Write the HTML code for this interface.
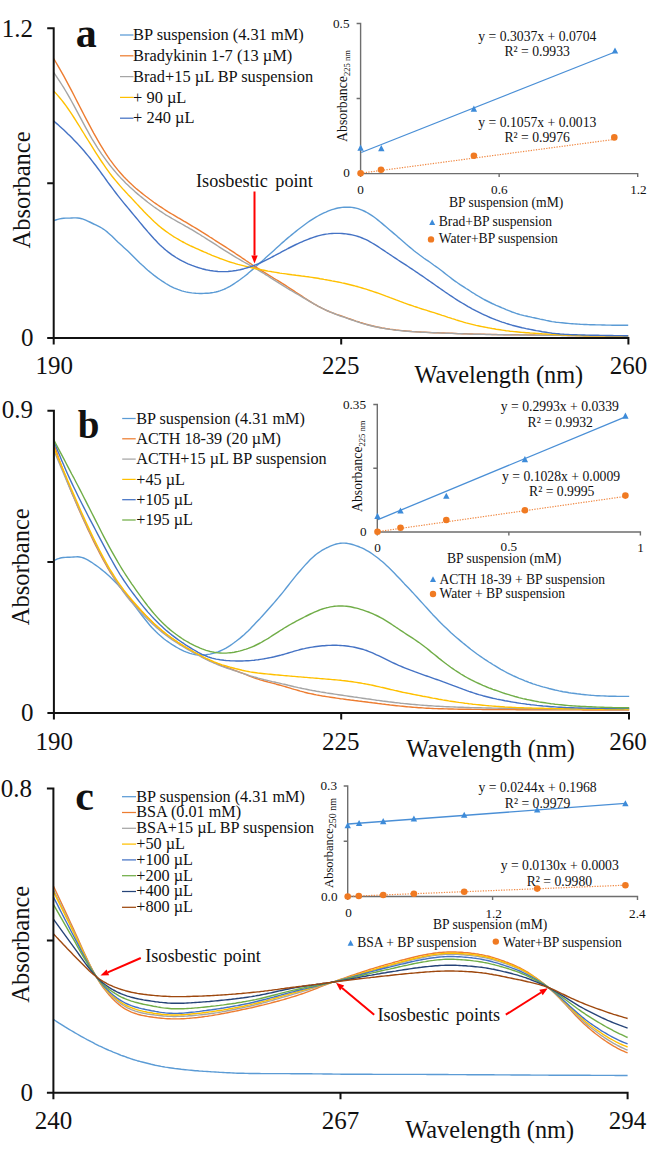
<!DOCTYPE html>
<html><head><meta charset="utf-8"><style>
html,body{margin:0;padding:0;background:#fff;}
svg{display:block;}
text{font-family:"Liberation Serif",serif;fill:#111;}
</style></head><body>
<svg width="652" height="1153" viewBox="0 0 652 1153">
<rect width="652" height="1153" fill="#fff"/>
<path d="M53.7,220.6 55.7,220.0 57.7,219.4 59.7,218.9 61.7,218.5 63.7,218.3 65.7,218.1 67.7,218.1 69.7,218.1 71.7,218.0 73.7,217.9 75.7,217.9 77.7,218.0 79.7,218.2 81.7,218.7 83.7,219.4 85.7,220.2 87.7,221.1 89.7,222.0 91.7,223.0 93.7,224.0 95.7,224.9 97.7,225.9 99.7,226.9 101.7,228.0 103.7,229.3 105.7,230.7 107.7,232.4 109.7,234.2 111.8,236.1 113.8,238.1 115.8,240.1 117.8,242.0 119.8,243.8 121.8,245.6 123.8,247.4 125.8,249.2 127.8,251.0 129.8,252.9 131.8,254.9 133.8,256.9 135.8,258.9 137.8,260.9 139.8,262.9 141.8,264.8 143.8,266.6 145.8,268.4 147.8,270.2 149.8,271.9 151.8,273.5 153.8,275.1 155.8,276.6 157.8,278.1 159.8,279.5 161.8,280.9 163.8,282.2 165.8,283.5 167.8,284.7 169.8,285.8 171.8,286.8 173.8,287.8 175.8,288.6 177.8,289.4 179.8,290.1 181.8,290.8 183.8,291.4 185.8,291.9 187.8,292.3 189.8,292.6 191.8,292.9 193.8,293.1 195.8,293.3 197.8,293.4 199.8,293.5 201.8,293.5 203.8,293.4 205.8,293.3 207.8,293.2 209.8,293.0 211.8,292.7 213.8,292.4 215.8,292.0 217.8,291.5 219.8,290.9 221.8,290.2 223.8,289.4 225.8,288.5 227.9,287.4 229.9,286.3 231.9,285.1 233.9,283.8 235.9,282.5 237.9,281.2 239.9,279.8 241.9,278.3 243.9,276.8 245.9,275.2 247.9,273.6 249.9,271.8 251.9,270.1 253.9,268.4 255.9,266.6 257.9,264.8 259.9,263.0 261.9,261.3 263.9,259.5 265.9,257.6 267.9,255.8 269.9,254.0 271.9,252.2 273.9,250.4 275.9,248.6 277.9,246.7 279.9,244.9 281.9,243.1 283.9,241.4 285.9,239.6 287.9,237.9 289.9,236.3 291.9,234.6 293.9,233.0 295.9,231.4 297.9,229.8 299.9,228.3 301.9,226.8 303.9,225.3 305.9,223.8 307.9,222.3 309.9,220.9 311.9,219.6 313.9,218.3 315.9,217.1 317.9,216.0 319.9,214.9 321.9,213.9 323.9,212.9 325.9,212.1 327.9,211.2 329.9,210.4 331.9,209.7 333.9,209.1 335.9,208.5 337.9,208.0 339.9,207.7 342.0,207.4 344.0,207.2 346.0,207.1 348.0,207.2 350.0,207.3 352.0,207.4 354.0,207.7 356.0,208.1 358.0,208.6 360.0,209.3 362.0,210.1 364.0,211.0 366.0,212.0 368.0,213.1 370.0,214.3 372.0,215.6 374.0,217.0 376.0,218.5 378.0,220.1 380.0,221.7 382.0,223.4 384.0,225.1 386.0,226.8 388.0,228.5 390.0,230.2 392.0,231.9 394.0,233.6 396.0,235.3 398.0,237.1 400.0,238.8 402.0,240.5 404.0,242.2 406.0,244.0 408.0,245.7 410.0,247.4 412.0,249.0 414.0,250.7 416.0,252.3 418.0,253.8 420.0,255.3 422.0,256.7 424.0,258.2 426.0,259.6 428.0,260.9 430.0,262.3 432.0,263.7 434.0,265.2 436.0,266.6 438.0,268.0 440.0,269.5 442.0,271.0 444.0,272.6 446.0,274.2 448.0,275.8 450.0,277.3 452.0,278.9 454.0,280.4 456.1,281.8 458.1,283.2 460.1,284.6 462.1,285.9 464.1,287.2 466.1,288.5 468.1,289.7 470.1,291.0 472.1,292.3 474.1,293.5 476.1,294.8 478.1,296.0 480.1,297.2 482.1,298.3 484.1,299.5 486.1,300.5 488.1,301.5 490.1,302.5 492.1,303.5 494.1,304.4 496.1,305.3 498.1,306.1 500.1,307.0 502.1,307.9 504.1,308.7 506.1,309.6 508.1,310.4 510.1,311.2 512.1,312.0 514.1,312.7 516.1,313.4 518.1,314.0 520.1,314.6 522.1,315.1 524.1,315.6 526.1,316.0 528.1,316.5 530.1,316.9 532.1,317.4 534.1,317.8 536.1,318.2 538.1,318.6 540.1,319.1 542.1,319.5 544.1,319.9 546.1,320.4 548.1,320.8 550.1,321.2 552.1,321.6 554.1,321.9 556.1,322.2 558.1,322.4 560.1,322.6 562.1,322.8 564.1,323.0 566.1,323.2 568.1,323.4 570.1,323.6 572.2,323.7 574.2,323.9 576.2,324.0 578.2,324.1 580.2,324.3 582.2,324.4 584.2,324.5 586.2,324.5 588.2,324.6 590.2,324.7 592.2,324.7 594.2,324.8 596.2,324.9 598.2,324.9 600.2,324.9 602.2,325.0 604.2,325.0 606.2,325.1 608.2,325.1 610.2,325.1 612.2,325.2 614.2,325.2 616.2,325.2 618.2,325.2 620.2,325.2 622.2,325.2 624.2,325.2 626.2,325.2 628.2,325.2" fill="none" stroke="#5B9BD5" stroke-width="1.4" stroke-linejoin="round"/>
<path d="M53.7,58.7 55.7,62.0 57.7,65.4 59.7,68.8 61.7,72.3 63.7,75.9 65.7,79.6 67.7,83.3 69.7,87.1 71.7,90.9 73.7,94.8 75.7,98.7 77.7,102.6 79.7,106.5 81.7,110.4 83.7,114.3 85.7,118.1 87.7,121.9 89.7,125.7 91.7,129.4 93.7,133.1 95.7,136.6 97.7,140.2 99.7,143.6 101.7,146.9 103.7,150.2 105.7,153.3 107.7,156.4 109.7,159.3 111.8,162.1 113.8,164.8 115.8,167.4 117.8,169.9 119.8,172.2 121.8,174.5 123.8,176.7 125.8,178.8 127.8,180.8 129.8,182.7 131.8,184.6 133.8,186.4 135.8,188.2 137.8,189.9 139.8,191.5 141.8,193.1 143.8,194.7 145.8,196.3 147.8,197.8 149.8,199.3 151.8,200.7 153.8,202.2 155.8,203.6 157.8,205.0 159.8,206.4 161.8,207.7 163.8,209.0 165.8,210.3 167.8,211.6 169.8,212.8 171.8,214.0 173.8,215.2 175.8,216.4 177.8,217.6 179.8,218.7 181.8,219.9 183.8,221.1 185.8,222.2 187.8,223.4 189.8,224.6 191.8,225.8 193.8,227.0 195.8,228.2 197.8,229.4 199.8,230.6 201.8,231.9 203.8,233.1 205.8,234.4 207.8,235.7 209.8,237.0 211.8,238.2 213.8,239.5 215.8,240.8 217.8,242.1 219.8,243.4 221.8,244.6 223.8,245.9 225.8,247.2 227.9,248.5 229.9,249.8 231.9,251.1 233.9,252.4 235.9,253.8 237.9,255.1 239.9,256.4 241.9,257.8 243.9,259.1 245.9,260.5 247.9,261.8 249.9,263.2 251.9,264.5 253.9,265.8 255.9,267.1 257.9,268.4 259.9,269.7 261.9,270.9 263.9,272.2 265.9,273.4 267.9,274.6 269.9,275.8 271.9,277.0 273.9,278.3 275.9,279.5 277.9,280.7 279.9,281.9 281.9,283.2 283.9,284.4 285.9,285.7 287.9,287.0 289.9,288.3 291.9,289.6 293.9,290.9 295.9,292.3 297.9,293.6 299.9,294.9 301.9,296.2 303.9,297.5 305.9,298.8 307.9,300.1 309.9,301.3 311.9,302.6 313.9,303.8 315.9,304.9 317.9,306.1 319.9,307.1 321.9,308.2 323.9,309.2 325.9,310.1 327.9,311.0 329.9,311.9 331.9,312.7 333.9,313.4 335.9,314.1 337.9,314.8 339.9,315.5 342.0,316.2 344.0,316.9 346.0,317.6 348.0,318.3 350.0,319.0 352.0,319.7 354.0,320.4 356.0,321.1 358.0,321.7 360.0,322.4 362.0,323.0 364.0,323.6 366.0,324.2 368.0,324.7 370.0,325.3 372.0,325.8 374.0,326.2 376.0,326.7 378.0,327.1 380.0,327.5 382.0,327.9 384.0,328.2 386.0,328.6 388.0,328.9 390.0,329.2 392.0,329.4 394.0,329.7 396.0,330.0 398.0,330.2 400.0,330.4 402.0,330.6 404.0,330.8 406.0,331.0 408.0,331.2 410.0,331.3 412.0,331.5 414.0,331.6 416.0,331.7 418.0,331.9 420.0,332.0 422.0,332.1 424.0,332.2 426.0,332.3 428.0,332.4 430.0,332.5 432.0,332.6 434.0,332.7 436.0,332.7 438.0,332.8 440.0,332.9 442.0,333.0 444.0,333.0 446.0,333.1 448.0,333.2 450.0,333.3 452.0,333.3 454.0,333.4 456.1,333.5 458.1,333.6 460.1,333.6 462.1,333.7 464.1,333.8 466.1,333.8 468.1,333.9 470.1,334.0 472.1,334.0 474.1,334.1 476.1,334.1 478.1,334.2 480.1,334.2 482.1,334.3 484.1,334.3 486.1,334.4 488.1,334.4 490.1,334.4 492.1,334.5 494.1,334.5 496.1,334.5 498.1,334.6 500.1,334.6 502.1,334.6 504.1,334.7 506.1,334.7 508.1,334.7 510.1,334.7 512.1,334.8 514.1,334.8 516.1,334.8 518.1,334.8 520.1,334.9 522.1,334.9 524.1,334.9 526.1,334.9 528.1,335.0 530.1,335.0 532.1,335.0 534.1,335.0 536.1,335.1 538.1,335.1 540.1,335.1 542.1,335.1 544.1,335.2 546.1,335.2 548.1,335.2 550.1,335.2 552.1,335.3 554.1,335.3 556.1,335.3 558.1,335.3 560.1,335.4 562.1,335.4 564.1,335.4 566.1,335.4 568.1,335.5 570.1,335.5 572.2,335.5 574.2,335.5 576.2,335.6 578.2,335.6 580.2,335.6 582.2,335.6 584.2,335.7 586.2,335.7 588.2,335.7 590.2,335.7 592.2,335.8 594.2,335.8 596.2,335.8 598.2,335.8 600.2,335.9 602.2,335.9 604.2,335.9 606.2,335.9 608.2,336.0 610.2,336.0 612.2,336.0 614.2,336.0 616.2,336.1 618.2,336.1 620.2,336.1 622.2,336.1 624.2,336.2 626.2,336.2 628.2,336.2" fill="none" stroke="#ED7D31" stroke-width="1.4" stroke-linejoin="round"/>
<path d="M53.7,72.4 55.7,75.3 57.7,78.3 59.7,81.3 61.7,84.5 63.7,87.7 65.7,91.0 67.7,94.4 69.7,97.9 71.7,101.5 73.7,105.2 75.7,108.9 77.7,112.6 79.7,116.4 81.7,120.2 83.7,123.9 85.7,127.6 87.7,131.2 89.7,134.8 91.7,138.3 93.7,141.6 95.7,144.9 97.7,148.1 99.7,151.1 101.7,154.1 103.7,156.9 105.7,159.7 107.7,162.4 109.7,165.0 111.8,167.6 113.8,170.0 115.8,172.4 117.8,174.7 119.8,176.9 121.8,179.1 123.8,181.1 125.8,183.2 127.8,185.1 129.8,187.0 131.8,188.8 133.8,190.6 135.8,192.4 137.8,194.1 139.8,195.8 141.8,197.4 143.8,199.0 145.8,200.6 147.8,202.2 149.8,203.7 151.8,205.2 153.8,206.7 155.8,208.1 157.8,209.5 159.8,210.9 161.8,212.2 163.8,213.5 165.8,214.8 167.8,216.0 169.8,217.2 171.8,218.4 173.8,219.5 175.8,220.7 177.8,221.8 179.8,222.9 181.8,224.0 183.8,225.1 185.8,226.3 187.8,227.4 189.8,228.6 191.8,229.7 193.8,230.9 195.8,232.1 197.8,233.3 199.8,234.5 201.8,235.8 203.8,237.0 205.8,238.3 207.8,239.6 209.8,240.8 211.8,242.1 213.8,243.4 215.8,244.7 217.8,246.0 219.8,247.3 221.8,248.6 223.8,249.9 225.8,251.1 227.9,252.4 229.9,253.7 231.9,254.9 233.9,256.1 235.9,257.3 237.9,258.5 239.9,259.7 241.9,260.8 243.9,262.0 245.9,263.1 247.9,264.2 249.9,265.3 251.9,266.4 253.9,267.6 255.9,268.7 257.9,269.9 259.9,271.1 261.9,272.3 263.9,273.5 265.9,274.8 267.9,276.0 269.9,277.3 271.9,278.6 273.9,279.9 275.9,281.2 277.9,282.4 279.9,283.7 281.9,284.9 283.9,286.2 285.9,287.4 287.9,288.6 289.9,289.8 291.9,291.0 293.9,292.2 295.9,293.3 297.9,294.5 299.9,295.7 301.9,296.9 303.9,298.1 305.9,299.2 307.9,300.4 309.9,301.6 311.9,302.7 313.9,303.9 315.9,305.0 317.9,306.1 319.9,307.1 321.9,308.2 323.9,309.1 325.9,310.1 327.9,311.0 329.9,311.9 331.9,312.7 333.9,313.5 335.9,314.3 337.9,315.0 339.9,315.8 342.0,316.5 344.0,317.2 346.0,317.9 348.0,318.6 350.0,319.3 352.0,320.0 354.0,320.7 356.0,321.4 358.0,322.0 360.0,322.7 362.0,323.3 364.0,323.9 366.0,324.4 368.0,325.0 370.0,325.5 372.0,326.0 374.0,326.5 376.0,326.9 378.0,327.3 380.0,327.7 382.0,328.1 384.0,328.4 386.0,328.8 388.0,329.1 390.0,329.4 392.0,329.6 394.0,329.9 396.0,330.2 398.0,330.4 400.0,330.6 402.0,330.8 404.0,331.0 406.0,331.2 408.0,331.3 410.0,331.5 412.0,331.6 414.0,331.7 416.0,331.9 418.0,332.0 420.0,332.1 422.0,332.2 424.0,332.3 426.0,332.4 428.0,332.5 430.0,332.6 432.0,332.7 434.0,332.8 436.0,332.8 438.0,332.9 440.0,333.0 442.0,333.1 444.0,333.1 446.0,333.2 448.0,333.3 450.0,333.4 452.0,333.4 454.0,333.5 456.1,333.6 458.1,333.7 460.1,333.7 462.1,333.8 464.1,333.9 466.1,333.9 468.1,334.0 470.1,334.1 472.1,334.1 474.1,334.2 476.1,334.2 478.1,334.3 480.1,334.3 482.1,334.4 484.1,334.4 486.1,334.5 488.1,334.5 490.1,334.5 492.1,334.6 494.1,334.6 496.1,334.6 498.1,334.7 500.1,334.7 502.1,334.7 504.1,334.8 506.1,334.8 508.1,334.8 510.1,334.8 512.1,334.9 514.1,334.9 516.1,334.9 518.1,334.9 520.1,335.0 522.1,335.0 524.1,335.0 526.1,335.0 528.1,335.1 530.1,335.1 532.1,335.1 534.1,335.1 536.1,335.2 538.1,335.2 540.1,335.2 542.1,335.2 544.1,335.2 546.1,335.3 548.1,335.3 550.1,335.3 552.1,335.3 554.1,335.4 556.1,335.4 558.1,335.4 560.1,335.4 562.1,335.5 564.1,335.5 566.1,335.5 568.1,335.5 570.1,335.6 572.2,335.6 574.2,335.6 576.2,335.6 578.2,335.6 580.2,335.7 582.2,335.7 584.2,335.7 586.2,335.7 588.2,335.8 590.2,335.8 592.2,335.8 594.2,335.8 596.2,335.9 598.2,335.9 600.2,335.9 602.2,335.9 604.2,335.9 606.2,336.0 608.2,336.0 610.2,336.0 612.2,336.0 614.2,336.0 616.2,336.1 618.2,336.1 620.2,336.1 622.2,336.1 624.2,336.2 626.2,336.2 628.2,336.2" fill="none" stroke="#A5A5A5" stroke-width="1.4" stroke-linejoin="round"/>
<path d="M53.9,91.2 55.9,93.4 57.9,95.6 59.9,98.0 61.9,100.4 63.9,103.0 65.9,105.7 67.9,108.5 69.9,111.4 71.9,114.4 73.9,117.5 75.9,120.6 77.9,123.8 79.9,127.0 81.9,130.3 83.9,133.5 85.9,136.8 87.9,140.0 89.9,143.2 91.9,146.4 93.9,149.6 95.9,152.8 97.9,155.9 99.9,159.0 101.9,162.0 103.9,164.9 105.9,167.8 107.9,170.6 109.9,173.3 111.9,176.0 113.9,178.5 115.9,180.9 117.9,183.3 119.9,185.6 121.9,187.9 123.9,190.1 125.9,192.2 127.9,194.4 129.9,196.5 131.9,198.6 133.9,200.8 135.9,202.9 137.9,205.1 139.9,207.2 141.9,209.3 143.9,211.5 145.9,213.6 147.9,215.6 150.0,217.6 152.0,219.6 154.0,221.5 156.0,223.3 158.0,225.1 160.0,226.7 162.0,228.4 164.0,229.9 166.0,231.4 168.0,232.8 170.0,234.2 172.0,235.5 174.0,236.8 176.0,238.0 178.0,239.2 180.0,240.4 182.0,241.5 184.0,242.5 186.0,243.6 188.0,244.6 190.0,245.6 192.0,246.5 194.0,247.4 196.0,248.3 198.0,249.2 200.0,250.1 202.0,251.0 204.0,251.9 206.0,252.7 208.0,253.6 210.0,254.4 212.0,255.3 214.0,256.1 216.0,256.9 218.0,257.7 220.0,258.5 222.0,259.2 224.0,259.9 226.0,260.6 228.0,261.3 230.0,262.0 232.0,262.6 234.0,263.2 236.0,263.8 238.0,264.4 240.0,264.9 242.0,265.4 244.0,265.9 246.0,266.4 248.0,266.9 250.0,267.4 252.0,267.8 254.0,268.3 256.0,268.7 258.0,269.1 260.0,269.5 262.0,269.9 264.0,270.3 266.0,270.7 268.0,271.1 270.0,271.4 272.0,271.8 274.0,272.1 276.0,272.4 278.0,272.7 280.0,273.1 282.0,273.4 284.0,273.6 286.0,273.9 288.0,274.2 290.0,274.5 292.0,274.8 294.0,275.0 296.0,275.3 298.0,275.5 300.0,275.8 302.0,276.1 304.0,276.3 306.0,276.6 308.0,276.8 310.0,277.1 312.0,277.4 314.0,277.7 316.0,278.0 318.0,278.3 320.0,278.7 322.0,279.0 324.0,279.4 326.0,279.7 328.0,280.1 330.0,280.5 332.0,280.9 334.0,281.2 336.0,281.6 338.0,282.0 340.0,282.4 342.1,282.9 344.1,283.3 346.1,283.7 348.1,284.2 350.1,284.7 352.1,285.2 354.1,285.7 356.1,286.3 358.1,286.8 360.1,287.4 362.1,288.0 364.1,288.6 366.1,289.2 368.1,289.8 370.1,290.5 372.1,291.1 374.1,291.8 376.1,292.5 378.1,293.2 380.1,293.9 382.1,294.6 384.1,295.3 386.1,296.1 388.1,296.8 390.1,297.6 392.1,298.3 394.1,299.1 396.1,299.9 398.1,300.6 400.1,301.4 402.1,302.1 404.1,302.9 406.1,303.6 408.1,304.3 410.1,305.0 412.1,305.7 414.1,306.4 416.1,307.0 418.1,307.7 420.1,308.3 422.1,309.0 424.1,309.6 426.1,310.2 428.1,310.8 430.1,311.5 432.1,312.1 434.1,312.7 436.1,313.3 438.1,314.0 440.1,314.6 442.1,315.3 444.1,315.9 446.1,316.6 448.1,317.3 450.1,317.9 452.1,318.6 454.1,319.2 456.1,319.9 458.1,320.5 460.1,321.1 462.1,321.7 464.1,322.3 466.1,322.9 468.1,323.4 470.1,323.9 472.1,324.4 474.1,324.9 476.1,325.4 478.1,325.8 480.1,326.2 482.1,326.6 484.1,327.0 486.1,327.4 488.1,327.8 490.1,328.1 492.1,328.5 494.1,328.8 496.1,329.2 498.1,329.5 500.1,329.8 502.1,330.1 504.1,330.4 506.1,330.7 508.1,330.9 510.1,331.2 512.1,331.4 514.1,331.6 516.1,331.8 518.1,332.0 520.1,332.2 522.1,332.4 524.1,332.5 526.1,332.7 528.1,332.8 530.1,333.0 532.1,333.1 534.2,333.2 536.2,333.4 538.2,333.5 540.2,333.6 542.2,333.8 544.2,333.9 546.2,334.0 548.2,334.1 550.2,334.3 552.2,334.4 554.2,334.5 556.2,334.6 558.2,334.7 560.2,334.8 562.2,334.9 564.2,335.0 566.2,335.1 568.2,335.2 570.2,335.3 572.2,335.4 574.2,335.4 576.2,335.5 578.2,335.5 580.2,335.6 582.2,335.6 584.2,335.7 586.2,335.7 588.2,335.7 590.2,335.8 592.2,335.8 594.2,335.8 596.2,335.8 598.2,335.9 600.2,335.9 602.2,335.9 604.2,335.9 606.2,335.9 608.2,335.9 610.2,335.9 612.2,335.9 614.2,335.9 616.2,335.9 618.2,335.9 620.2,335.9 622.2,335.8 624.2,335.8 626.2,335.8 628.2,335.8" fill="none" stroke="#FFC000" stroke-width="1.4" stroke-linejoin="round"/>
<path d="M53.9,121.1 55.9,122.9 57.9,124.6 59.9,126.4 61.9,128.2 63.9,130.0 65.9,131.9 67.9,133.9 69.9,135.8 71.9,137.8 73.9,139.9 75.9,142.0 77.9,144.1 79.9,146.3 81.9,148.5 83.9,150.8 85.9,153.2 87.9,155.6 89.9,158.0 91.9,160.6 93.9,163.2 95.9,165.8 97.9,168.5 99.9,171.2 101.9,174.0 103.9,176.7 105.9,179.5 107.9,182.3 109.9,185.0 111.9,187.7 113.9,190.4 115.9,193.0 117.9,195.6 119.9,198.1 121.9,200.6 123.9,203.1 125.9,205.5 127.9,207.9 129.9,210.3 131.9,212.7 133.9,215.1 135.9,217.5 137.9,219.9 139.9,222.4 141.9,224.8 143.9,227.2 145.9,229.5 147.9,231.9 150.0,234.2 152.0,236.5 154.0,238.7 156.0,240.8 158.0,242.9 160.0,244.9 162.0,246.8 164.0,248.6 166.0,250.3 168.0,251.9 170.0,253.4 172.0,254.9 174.0,256.2 176.0,257.5 178.0,258.7 180.0,259.8 182.0,260.9 184.0,261.9 186.0,262.9 188.0,263.8 190.0,264.6 192.0,265.4 194.0,266.1 196.0,266.8 198.0,267.5 200.0,268.1 202.0,268.7 204.0,269.2 206.0,269.7 208.0,270.1 210.0,270.5 212.0,270.8 214.0,271.1 216.0,271.3 218.0,271.5 220.0,271.6 222.0,271.6 224.0,271.6 226.0,271.6 228.0,271.5 230.0,271.3 232.0,271.1 234.0,270.8 236.0,270.5 238.0,270.1 240.0,269.7 242.0,269.2 244.0,268.7 246.0,268.1 248.0,267.5 250.0,266.9 252.0,266.2 254.0,265.5 256.0,264.7 258.0,263.8 260.0,263.0 262.0,262.0 264.0,261.1 266.0,260.1 268.0,259.1 270.0,258.1 272.0,257.0 274.0,256.0 276.0,254.9 278.0,253.8 280.0,252.8 282.0,251.7 284.0,250.6 286.0,249.6 288.0,248.5 290.0,247.5 292.0,246.5 294.0,245.5 296.0,244.5 298.0,243.6 300.0,242.7 302.0,241.8 304.0,240.9 306.0,240.1 308.0,239.3 310.0,238.5 312.0,237.8 314.0,237.1 316.0,236.5 318.0,235.9 320.0,235.4 322.0,234.9 324.0,234.5 326.0,234.1 328.0,233.9 330.0,233.6 332.0,233.5 334.0,233.4 336.0,233.4 338.0,233.4 340.0,233.4 342.1,233.5 344.1,233.7 346.1,233.9 348.1,234.2 350.1,234.5 352.1,234.9 354.1,235.4 356.1,235.9 358.1,236.5 360.1,237.2 362.1,238.0 364.1,238.8 366.1,239.7 368.1,240.7 370.1,241.8 372.1,243.0 374.1,244.2 376.1,245.4 378.1,246.7 380.1,248.0 382.1,249.3 384.1,250.6 386.1,252.0 388.1,253.3 390.1,254.7 392.1,256.0 394.1,257.3 396.1,258.6 398.1,260.0 400.1,261.3 402.1,262.6 404.1,263.9 406.1,265.2 408.1,266.5 410.1,267.9 412.1,269.2 414.1,270.5 416.1,271.9 418.1,273.2 420.1,274.6 422.1,275.9 424.1,277.3 426.1,278.7 428.1,280.1 430.1,281.5 432.1,282.9 434.1,284.3 436.1,285.7 438.1,287.1 440.1,288.5 442.1,289.9 444.1,291.3 446.1,292.7 448.1,294.0 450.1,295.4 452.1,296.7 454.1,298.0 456.1,299.3 458.1,300.6 460.1,301.8 462.1,303.0 464.1,304.2 466.1,305.4 468.1,306.6 470.1,307.7 472.1,308.8 474.1,309.8 476.1,310.9 478.1,311.9 480.1,312.9 482.1,313.9 484.1,314.8 486.1,315.7 488.1,316.6 490.1,317.5 492.1,318.3 494.1,319.1 496.1,319.9 498.1,320.6 500.1,321.4 502.1,322.1 504.1,322.7 506.1,323.4 508.1,324.0 510.1,324.6 512.1,325.2 514.1,325.7 516.1,326.2 518.1,326.7 520.1,327.2 522.1,327.7 524.1,328.1 526.1,328.6 528.1,329.0 530.1,329.4 532.1,329.8 534.2,330.2 536.2,330.6 538.2,330.9 540.2,331.3 542.2,331.7 544.2,332.0 546.2,332.3 548.2,332.6 550.2,332.9 552.2,333.2 554.2,333.4 556.2,333.6 558.2,333.8 560.2,334.0 562.2,334.1 564.2,334.3 566.2,334.4 568.2,334.5 570.2,334.6 572.2,334.7 574.2,334.8 576.2,334.8 578.2,334.9 580.2,334.9 582.2,335.0 584.2,335.0 586.2,335.1 588.2,335.1 590.2,335.2 592.2,335.2 594.2,335.3 596.2,335.3 598.2,335.3 600.2,335.4 602.2,335.4 604.2,335.4 606.2,335.5 608.2,335.5 610.2,335.5 612.2,335.5 614.2,335.6 616.2,335.6 618.2,335.6 620.2,335.6 622.2,335.6 624.2,335.7 626.2,335.7 628.2,335.7" fill="none" stroke="#4472C4" stroke-width="1.4" stroke-linejoin="round"/>
<path d="M47.2,28.3 H53.7 V344.5 M47.2,183.15 H53.7 M47.2,338 H628.4 V344.5 M341.2,338 V344.5" fill="none" stroke="#111" stroke-width="2"/>
<text x="33" y="36.8" font-size="25" text-anchor="end" >1.2</text>
<text x="33.5" y="345.9" font-size="25" text-anchor="end" >0</text>
<text x="54.3" y="374.4" font-size="25" text-anchor="middle" >190</text>
<text x="340.7" y="374.4" font-size="25" text-anchor="middle" >225</text>
<text x="628.4" y="374.2" font-size="25" text-anchor="middle" >260</text>
<text x="414.4" y="382.5" font-size="24.3" text-anchor="start" >Wavelength (nm)</text>
<path d="M120,35.0 H133.5" stroke="#5B9BD5" stroke-width="1.25"/>
<text x="133.1" y="40.2" font-size="16.4" text-anchor="start" >BP suspension (4.31 mM)</text>
<path d="M120,55.8 H133.5" stroke="#ED7D31" stroke-width="1.25"/>
<text x="133.1" y="61.0" font-size="16.4" text-anchor="start" >Bradykinin 1-7 (13 µM)</text>
<path d="M120,76.6 H133.5" stroke="#A5A5A5" stroke-width="1.25"/>
<text x="133.1" y="81.8" font-size="16.4" text-anchor="start" >Brad+15 µL BP suspension</text>
<path d="M120,97.4 H133.5" stroke="#FFC000" stroke-width="1.25"/>
<text x="133.1" y="102.6" font-size="16.4" text-anchor="start" >+ 90 µL</text>
<path d="M120,118.2 H133.5" stroke="#4472C4" stroke-width="1.25"/>
<text x="133.1" y="123.4" font-size="16.4" text-anchor="start" >+ 240 µL</text>
<path d="M356.6,23.5 H360.6 V177.1 M356.6,98.55 H360.6 M360.6,173.6 H637.7 V177.1 M499.15000000000003,173.6 V177.1" fill="none" stroke="#6E6E6E" stroke-width="1.4"/>
<path d="M361.2,152.5 L615,52" stroke="#4A8FD6" stroke-width="1.3"/>
<path d="M360.6,173.2 L614.3,139.4" stroke="#F08A45" stroke-width="1.2" stroke-dasharray="1.3,1.3"/>
<path d="M357.4,150.7 L363.8,150.7 L360.6,144.6 Z" fill="#3D8BD9"/>
<path d="M378.1,151.2 L384.5,151.2 L381.3,145.1 Z" fill="#3D8BD9"/>
<path d="M470.7,111.7 L477.1,111.7 L473.9,105.6 Z" fill="#3D8BD9"/>
<path d="M611.8,53.6 L618.2,53.6 L615.0,47.5 Z" fill="#3D8BD9"/>
<circle cx="360.6" cy="173.2" r="3.3" fill="#F07A22"/>
<circle cx="381" cy="169.8" r="3.3" fill="#F07A22"/>
<circle cx="473.9" cy="155.8" r="3.3" fill="#F07A22"/>
<circle cx="614.3" cy="137.4" r="3.3" fill="#F07A22"/>
<path d="M429.2,225.0 L435.2,225.0 L432.2,219.2 Z" fill="#3D8BD9"/>
<circle cx="431" cy="239.4" r="3.2" fill="#F07A22"/>
<text x="349.5" y="27.6" font-size="13.2" text-anchor="end" >0.5</text>
<text x="349.8" y="177.4" font-size="13.2" text-anchor="end" >0</text>
<text x="360.6" y="193.5" font-size="13.2" text-anchor="middle" >0</text>
<text x="499.3" y="193.5" font-size="13.2" text-anchor="middle" >0.6</text>
<text x="638.4" y="193.7" font-size="13.2" text-anchor="middle" >1.2</text>
<text x="449" y="206.5" font-size="13.6" text-anchor="start" >BP suspension (mM)</text>
<text x="478.3" y="41.3" font-size="13.7" text-anchor="start" >y = 0.3037x + 0.0704</text>
<text x="504.4" y="56.3" font-size="13.7" text-anchor="start" >R² = 0.9933</text>
<text x="478.3" y="127.4" font-size="13.7" text-anchor="start" >y = 0.1057x + 0.0013</text>
<text x="504.4" y="141.7" font-size="13.7" text-anchor="start" >R² = 0.9976</text>
<text x="438.8" y="226.1" font-size="13.6" text-anchor="start" >Brad+BP suspension</text>
<text x="438.8" y="243.3" font-size="13.6" text-anchor="start" >Water+BP suspension</text>
<path d="M53.5,560.7 55.5,559.8 57.5,558.9 59.5,558.3 61.5,557.8 63.5,557.5 65.5,557.4 67.5,557.3 69.5,557.2 71.6,557.1 73.6,557.0 75.6,556.9 77.6,556.8 79.6,557.0 81.6,557.4 83.6,558.0 85.6,558.9 87.6,559.9 89.6,561.1 91.6,562.3 93.6,563.7 95.6,565.1 97.6,566.5 99.6,568.0 101.6,569.6 103.6,571.2 105.7,572.9 107.7,574.7 109.7,576.5 111.7,578.4 113.7,580.4 115.7,582.4 117.7,584.5 119.7,586.7 121.7,588.9 123.7,591.3 125.7,593.7 127.7,596.2 129.7,598.9 131.7,601.6 133.7,604.4 135.7,607.1 137.7,609.9 139.8,612.6 141.8,615.2 143.8,617.8 145.8,620.3 147.8,622.8 149.8,625.2 151.8,627.5 153.8,629.6 155.8,631.6 157.8,633.5 159.8,635.3 161.8,637.0 163.8,638.7 165.8,640.2 167.8,641.6 169.8,643.0 171.8,644.4 173.9,645.6 175.9,646.9 177.9,648.0 179.9,649.1 181.9,650.1 183.9,651.1 185.9,651.9 187.9,652.6 189.9,653.3 191.9,653.9 193.9,654.3 195.9,654.7 197.9,654.9 199.9,655.0 201.9,655.0 203.9,654.9 206.0,654.7 208.0,654.4 210.0,654.1 212.0,653.6 214.0,653.1 216.0,652.5 218.0,651.8 220.0,651.0 222.0,650.1 224.0,649.2 226.0,648.1 228.0,646.9 230.0,645.6 232.0,644.2 234.0,642.8 236.0,641.3 238.0,639.7 240.1,638.1 242.1,636.4 244.1,634.7 246.1,632.8 248.1,630.9 250.1,628.9 252.1,626.8 254.1,624.7 256.1,622.6 258.1,620.5 260.1,618.4 262.1,616.2 264.1,614.0 266.1,611.8 268.1,609.5 270.1,607.3 272.1,605.0 274.2,602.6 276.2,600.3 278.2,597.9 280.2,595.5 282.2,593.1 284.2,590.6 286.2,588.0 288.2,585.5 290.2,582.9 292.2,580.4 294.2,577.9 296.2,575.4 298.2,573.0 300.2,570.7 302.2,568.4 304.2,566.1 306.2,563.9 308.3,561.7 310.3,559.6 312.3,557.7 314.3,555.9 316.3,554.3 318.3,552.8 320.3,551.5 322.3,550.2 324.3,549.1 326.3,548.0 328.3,547.1 330.3,546.1 332.3,545.3 334.3,544.6 336.3,544.0 338.3,543.6 340.3,543.3 342.4,543.1 344.4,543.1 346.4,543.3 348.4,543.6 350.4,544.0 352.4,544.5 354.4,545.1 356.4,545.8 358.4,546.5 360.4,547.4 362.4,548.2 364.4,549.2 366.4,550.3 368.4,551.4 370.4,552.7 372.4,554.0 374.4,555.5 376.5,557.0 378.5,558.5 380.5,560.2 382.5,561.8 384.5,563.6 386.5,565.4 388.5,567.3 390.5,569.3 392.5,571.3 394.5,573.3 396.5,575.4 398.5,577.5 400.5,579.6 402.5,581.7 404.5,583.9 406.5,586.0 408.5,588.1 410.6,590.3 412.6,592.4 414.6,594.6 416.6,596.8 418.6,599.0 420.6,601.2 422.6,603.4 424.6,605.6 426.6,607.8 428.6,610.0 430.6,612.2 432.6,614.4 434.6,616.5 436.6,618.6 438.6,620.7 440.6,622.8 442.6,624.8 444.7,626.7 446.7,628.6 448.7,630.5 450.7,632.4 452.7,634.2 454.7,636.0 456.7,637.7 458.7,639.4 460.7,641.1 462.7,642.8 464.7,644.4 466.7,646.0 468.7,647.6 470.7,649.2 472.7,650.7 474.7,652.2 476.7,653.7 478.8,655.2 480.8,656.6 482.8,658.0 484.8,659.4 486.8,660.7 488.8,662.0 490.8,663.2 492.8,664.5 494.8,665.7 496.8,666.9 498.8,668.1 500.8,669.3 502.8,670.4 504.8,671.5 506.8,672.6 508.8,673.6 510.9,674.6 512.9,675.6 514.9,676.5 516.9,677.4 518.9,678.3 520.9,679.1 522.9,679.9 524.9,680.8 526.9,681.5 528.9,682.3 530.9,683.0 532.9,683.8 534.9,684.4 536.9,685.1 538.9,685.7 540.9,686.3 542.9,686.9 545.0,687.4 547.0,687.9 549.0,688.5 551.0,689.0 553.0,689.5 555.0,690.0 557.0,690.4 559.0,690.9 561.0,691.3 563.0,691.7 565.0,692.0 567.0,692.3 569.0,692.7 571.0,693.0 573.0,693.2 575.0,693.5 577.0,693.8 579.1,694.0 581.1,694.3 583.1,694.5 585.1,694.7 587.1,694.9 589.1,695.1 591.1,695.3 593.1,695.4 595.1,695.6 597.1,695.7 599.1,695.8 601.1,695.9 603.1,695.9 605.1,696.0 607.1,696.1 609.1,696.2 611.1,696.2 613.2,696.3 615.2,696.3 617.2,696.4 619.2,696.4 621.2,696.4 623.2,696.4 625.2,696.4 627.2,696.4 629.2,696.4" fill="none" stroke="#5B9BD5" stroke-width="1.4" stroke-linejoin="round"/>
<path d="M53.7,443.3 55.7,449.2 57.7,455.1 59.7,460.9 61.7,466.5 63.7,472.0 65.7,477.3 67.7,482.5 69.7,487.6 71.7,492.6 73.8,497.4 75.8,502.2 77.8,506.9 79.8,511.5 81.8,516.0 83.8,520.4 85.8,524.8 87.8,529.1 89.8,533.3 91.8,537.5 93.8,541.6 95.8,545.6 97.8,549.5 99.8,553.4 101.8,557.2 103.8,560.9 105.8,564.5 107.8,568.1 109.8,571.5 111.9,574.7 113.9,577.9 115.9,580.9 117.9,583.8 119.9,586.6 121.9,589.2 123.9,591.8 125.9,594.2 127.9,596.6 129.9,598.8 131.9,601.0 133.9,603.2 135.9,605.4 137.9,607.5 139.9,609.6 141.9,611.6 143.9,613.7 145.9,615.8 147.9,617.8 150.0,619.8 152.0,621.8 154.0,623.7 156.0,625.5 158.0,627.3 160.0,629.1 162.0,630.8 164.0,632.4 166.0,634.0 168.0,635.5 170.0,637.0 172.0,638.4 174.0,639.8 176.0,641.2 178.0,642.6 180.0,643.9 182.0,645.2 184.0,646.4 186.0,647.7 188.1,648.9 190.1,650.1 192.1,651.2 194.1,652.4 196.1,653.5 198.1,654.6 200.1,655.7 202.1,656.8 204.1,657.8 206.1,658.8 208.1,659.8 210.1,660.8 212.1,661.7 214.1,662.6 216.1,663.4 218.1,664.2 220.1,665.0 222.1,665.8 224.1,666.5 226.1,667.3 228.2,668.0 230.2,668.7 232.2,669.4 234.2,670.1 236.2,670.8 238.2,671.6 240.2,672.3 242.2,673.1 244.2,673.9 246.2,674.7 248.2,675.5 250.2,676.3 252.2,677.0 254.2,677.8 256.2,678.5 258.2,679.1 260.2,679.8 262.2,680.4 264.2,681.0 266.3,681.5 268.3,682.1 270.3,682.6 272.3,683.1 274.3,683.6 276.3,684.2 278.3,684.7 280.3,685.2 282.3,685.8 284.3,686.4 286.3,687.0 288.3,687.6 290.3,688.2 292.3,688.8 294.3,689.4 296.3,689.9 298.3,690.5 300.3,691.1 302.3,691.6 304.4,692.2 306.4,692.7 308.4,693.2 310.4,693.6 312.4,694.0 314.4,694.5 316.4,694.9 318.4,695.2 320.4,695.6 322.4,696.0 324.4,696.3 326.4,696.6 328.4,696.9 330.4,697.2 332.4,697.5 334.4,697.8 336.4,698.1 338.4,698.4 340.4,698.7 342.5,698.9 344.5,699.2 346.5,699.5 348.5,699.7 350.5,700.0 352.5,700.2 354.5,700.5 356.5,700.7 358.5,701.0 360.5,701.2 362.5,701.5 364.5,701.7 366.5,702.0 368.5,702.3 370.5,702.5 372.5,702.8 374.5,703.0 376.5,703.3 378.5,703.6 380.6,703.8 382.6,704.1 384.6,704.3 386.6,704.6 388.6,704.8 390.6,705.1 392.6,705.3 394.6,705.5 396.6,705.7 398.6,705.9 400.6,706.1 402.6,706.3 404.6,706.5 406.6,706.7 408.6,706.9 410.6,707.0 412.6,707.2 414.6,707.4 416.6,707.5 418.7,707.7 420.7,707.8 422.7,707.9 424.7,708.1 426.7,708.2 428.7,708.3 430.7,708.4 432.7,708.5 434.7,708.6 436.7,708.6 438.7,708.7 440.7,708.8 442.7,708.8 444.7,708.9 446.7,708.9 448.7,709.0 450.7,709.0 452.7,709.0 454.7,709.1 456.8,709.1 458.8,709.2 460.8,709.2 462.8,709.2 464.8,709.3 466.8,709.3 468.8,709.3 470.8,709.3 472.8,709.4 474.8,709.4 476.8,709.4 478.8,709.4 480.8,709.4 482.8,709.5 484.8,709.5 486.8,709.5 488.8,709.5 490.8,709.5 492.8,709.5 494.8,709.5 496.9,709.5 498.9,709.6 500.9,709.6 502.9,709.6 504.9,709.6 506.9,709.6 508.9,709.6 510.9,709.6 512.9,709.6 514.9,709.6 516.9,709.7 518.9,709.7 520.9,709.7 522.9,709.7 524.9,709.7 526.9,709.7 528.9,709.7 530.9,709.7 532.9,709.7 535.0,709.7 537.0,709.8 539.0,709.8 541.0,709.8 543.0,709.8 545.0,709.8 547.0,709.8 549.0,709.8 551.0,709.8 553.0,709.8 555.0,709.8 557.0,709.9 559.0,709.9 561.0,709.9 563.0,709.9 565.0,709.9 567.0,709.9 569.0,709.9 571.0,709.9 573.1,709.9 575.1,709.9 577.1,709.9 579.1,709.9 581.1,709.9 583.1,710.0 585.1,710.0 587.1,710.0 589.1,710.0 591.1,710.0 593.1,710.0 595.1,710.0 597.1,710.0 599.1,710.0 601.1,710.0 603.1,710.0 605.1,710.0 607.1,710.0 609.1,710.0 611.2,710.0 613.2,710.0 615.2,710.0 617.2,710.0 619.2,710.0 621.2,710.0 623.2,710.0 625.2,710.0 627.2,710.0 629.2,710.0" fill="none" stroke="#ED7D31" stroke-width="1.4" stroke-linejoin="round"/>
<path d="M53.7,450.1 55.7,454.8 57.7,459.6 59.7,464.3 61.7,469.1 63.7,473.8 65.7,478.5 67.7,483.2 69.7,487.9 71.7,492.5 73.8,497.1 75.8,501.7 77.8,506.2 79.8,510.6 81.8,515.0 83.8,519.4 85.8,523.7 87.8,527.9 89.8,532.1 91.8,536.2 93.8,540.3 95.8,544.3 97.8,548.2 99.8,552.1 101.8,556.0 103.8,559.7 105.8,563.4 107.8,567.0 109.8,570.6 111.9,574.0 113.9,577.4 115.9,580.6 117.9,583.7 119.9,586.8 121.9,589.7 123.9,592.5 125.9,595.2 127.9,597.7 129.9,600.2 131.9,602.6 133.9,604.8 135.9,607.1 137.9,609.2 139.9,611.4 141.9,613.4 143.9,615.5 145.9,617.5 147.9,619.5 150.0,621.5 152.0,623.4 154.0,625.3 156.0,627.1 158.0,628.8 160.0,630.5 162.0,632.1 164.0,633.7 166.0,635.3 168.0,636.7 170.0,638.2 172.0,639.6 174.0,640.9 176.0,642.2 178.0,643.5 180.0,644.8 182.0,646.0 184.0,647.2 186.0,648.4 188.1,649.6 190.1,650.7 192.1,651.9 194.1,653.0 196.1,654.1 198.1,655.2 200.1,656.2 202.1,657.3 204.1,658.3 206.1,659.3 208.1,660.3 210.1,661.3 212.1,662.2 214.1,663.1 216.1,663.9 218.1,664.8 220.1,665.6 222.1,666.4 224.1,667.1 226.1,667.8 228.2,668.5 230.2,669.2 232.2,669.9 234.2,670.6 236.2,671.2 238.2,671.9 240.2,672.6 242.2,673.2 244.2,673.9 246.2,674.5 248.2,675.2 250.2,675.8 252.2,676.4 254.2,677.0 256.2,677.5 258.2,678.1 260.2,678.6 262.2,679.1 264.2,679.7 266.3,680.1 268.3,680.6 270.3,681.1 272.3,681.6 274.3,682.0 276.3,682.5 278.3,682.9 280.3,683.4 282.3,683.9 284.3,684.3 286.3,684.8 288.3,685.3 290.3,685.7 292.3,686.2 294.3,686.7 296.3,687.1 298.3,687.6 300.3,688.0 302.3,688.5 304.4,688.9 306.4,689.3 308.4,689.7 310.4,690.1 312.4,690.5 314.4,690.8 316.4,691.2 318.4,691.5 320.4,691.9 322.4,692.2 324.4,692.5 326.4,692.9 328.4,693.2 330.4,693.5 332.4,693.8 334.4,694.1 336.4,694.4 338.4,694.7 340.4,695.0 342.5,695.3 344.5,695.6 346.5,695.9 348.5,696.2 350.5,696.5 352.5,696.8 354.5,697.1 356.5,697.3 358.5,697.6 360.5,697.9 362.5,698.2 364.5,698.5 366.5,698.8 368.5,699.0 370.5,699.3 372.5,699.6 374.5,699.9 376.5,700.2 378.5,700.4 380.6,700.7 382.6,701.0 384.6,701.2 386.6,701.5 388.6,701.8 390.6,702.0 392.6,702.2 394.6,702.5 396.6,702.7 398.6,702.9 400.6,703.2 402.6,703.4 404.6,703.6 406.6,703.8 408.6,704.0 410.6,704.2 412.6,704.4 414.6,704.5 416.6,704.7 418.7,704.9 420.7,705.1 422.7,705.2 424.7,705.4 426.7,705.5 428.7,705.7 430.7,705.8 432.7,705.9 434.7,706.1 436.7,706.2 438.7,706.3 440.7,706.4 442.7,706.5 444.7,706.6 446.7,706.7 448.7,706.8 450.7,706.9 452.7,706.9 454.7,707.0 456.8,707.1 458.8,707.2 460.8,707.2 462.8,707.3 464.8,707.4 466.8,707.5 468.8,707.5 470.8,707.6 472.8,707.6 474.8,707.7 476.8,707.8 478.8,707.8 480.8,707.8 482.8,707.9 484.8,707.9 486.8,708.0 488.8,708.0 490.8,708.0 492.8,708.1 494.8,708.1 496.9,708.1 498.9,708.2 500.9,708.2 502.9,708.2 504.9,708.3 506.9,708.3 508.9,708.3 510.9,708.4 512.9,708.4 514.9,708.4 516.9,708.4 518.9,708.5 520.9,708.5 522.9,708.5 524.9,708.6 526.9,708.6 528.9,708.6 530.9,708.7 532.9,708.7 535.0,708.7 537.0,708.7 539.0,708.8 541.0,708.8 543.0,708.8 545.0,708.8 547.0,708.9 549.0,708.9 551.0,708.9 553.0,709.0 555.0,709.0 557.0,709.0 559.0,709.0 561.0,709.1 563.0,709.1 565.0,709.1 567.0,709.1 569.0,709.1 571.0,709.2 573.1,709.2 575.1,709.2 577.1,709.2 579.1,709.2 581.1,709.3 583.1,709.3 585.1,709.3 587.1,709.3 589.1,709.3 591.1,709.4 593.1,709.4 595.1,709.4 597.1,709.4 599.1,709.4 601.1,709.4 603.1,709.4 605.1,709.4 607.1,709.4 609.1,709.5 611.2,709.5 613.2,709.5 615.2,709.5 617.2,709.5 619.2,709.5 621.2,709.5 623.2,709.5 625.2,709.5 627.2,709.5 629.2,709.5" fill="none" stroke="#A5A5A5" stroke-width="1.4" stroke-linejoin="round"/>
<path d="M53.7,447.6 55.7,452.2 57.7,456.8 59.7,461.5 61.7,466.2 63.7,470.9 65.7,475.6 67.7,480.4 69.7,485.1 71.7,489.9 73.8,494.6 75.8,499.3 77.8,503.9 79.8,508.5 81.8,513.0 83.8,517.4 85.8,521.8 87.8,526.1 89.8,530.4 91.8,534.6 93.8,538.7 95.8,542.8 97.8,546.8 99.8,550.7 101.8,554.6 103.8,558.3 105.8,562.0 107.8,565.6 109.8,569.1 111.9,572.4 113.9,575.7 115.9,578.8 117.9,581.8 119.9,584.7 121.9,587.4 123.9,590.1 125.9,592.6 127.9,595.1 129.9,597.5 131.9,599.9 133.9,602.2 135.9,604.5 137.9,606.7 139.9,609.0 141.9,611.2 143.9,613.3 145.9,615.4 147.9,617.5 150.0,619.6 152.0,621.5 154.0,623.5 156.0,625.3 158.0,627.1 160.0,628.8 162.0,630.5 164.0,632.1 166.0,633.7 168.0,635.2 170.0,636.7 172.0,638.2 174.0,639.6 176.0,640.9 178.0,642.3 180.0,643.6 182.0,644.8 184.0,646.1 186.0,647.3 188.1,648.5 190.1,649.7 192.1,650.8 194.1,652.0 196.1,653.1 198.1,654.2 200.1,655.2 202.1,656.3 204.1,657.3 206.1,658.3 208.1,659.2 210.1,660.1 212.1,661.0 214.1,661.9 216.1,662.6 218.1,663.4 220.1,664.1 222.1,664.8 224.1,665.4 226.1,666.0 228.2,666.6 230.2,667.2 232.2,667.7 234.2,668.2 236.2,668.8 238.2,669.3 240.2,669.8 242.2,670.3 244.2,670.7 246.2,671.1 248.2,671.5 250.2,671.9 252.2,672.2 254.2,672.5 256.2,672.8 258.2,673.1 260.2,673.3 262.2,673.5 264.2,673.7 266.3,673.9 268.3,674.1 270.3,674.3 272.3,674.5 274.3,674.7 276.3,674.9 278.3,675.0 280.3,675.2 282.3,675.4 284.3,675.6 286.3,675.7 288.3,675.9 290.3,676.1 292.3,676.3 294.3,676.4 296.3,676.6 298.3,676.8 300.3,676.9 302.3,677.1 304.4,677.3 306.4,677.4 308.4,677.6 310.4,677.8 312.4,677.9 314.4,678.1 316.4,678.2 318.4,678.4 320.4,678.6 322.4,678.7 324.4,678.9 326.4,679.1 328.4,679.2 330.4,679.4 332.4,679.6 334.4,679.7 336.4,679.9 338.4,680.1 340.4,680.3 342.5,680.6 344.5,680.8 346.5,681.0 348.5,681.3 350.5,681.5 352.5,681.8 354.5,682.1 356.5,682.4 358.5,682.7 360.5,683.0 362.5,683.4 364.5,683.7 366.5,684.1 368.5,684.5 370.5,684.9 372.5,685.3 374.5,685.7 376.5,686.2 378.5,686.6 380.6,687.1 382.6,687.5 384.6,688.0 386.6,688.5 388.6,689.0 390.6,689.5 392.6,689.9 394.6,690.4 396.6,690.8 398.6,691.3 400.6,691.7 402.6,692.2 404.6,692.6 406.6,693.0 408.6,693.4 410.6,693.8 412.6,694.2 414.6,694.6 416.6,695.0 418.7,695.4 420.7,695.8 422.7,696.2 424.7,696.5 426.7,696.9 428.7,697.3 430.7,697.7 432.7,698.1 434.7,698.4 436.7,698.8 438.7,699.2 440.7,699.5 442.7,699.9 444.7,700.2 446.7,700.5 448.7,700.9 450.7,701.2 452.7,701.5 454.7,701.8 456.8,702.1 458.8,702.4 460.8,702.6 462.8,702.9 464.8,703.2 466.8,703.4 468.8,703.7 470.8,703.9 472.8,704.2 474.8,704.4 476.8,704.6 478.8,704.8 480.8,705.0 482.8,705.2 484.8,705.4 486.8,705.6 488.8,705.8 490.8,705.9 492.8,706.1 494.8,706.2 496.9,706.4 498.9,706.5 500.9,706.7 502.9,706.8 504.9,707.0 506.9,707.1 508.9,707.2 510.9,707.3 512.9,707.4 514.9,707.5 516.9,707.6 518.9,707.7 520.9,707.7 522.9,707.8 524.9,707.9 526.9,707.9 528.9,708.0 530.9,708.0 532.9,708.1 535.0,708.2 537.0,708.2 539.0,708.2 541.0,708.3 543.0,708.3 545.0,708.4 547.0,708.4 549.0,708.5 551.0,708.5 553.0,708.6 555.0,708.6 557.0,708.6 559.0,708.7 561.0,708.7 563.0,708.7 565.0,708.8 567.0,708.8 569.0,708.8 571.0,708.9 573.1,708.9 575.1,708.9 577.1,709.0 579.1,709.0 581.1,709.0 583.1,709.0 585.1,709.1 587.1,709.1 589.1,709.1 591.1,709.1 593.1,709.1 595.1,709.1 597.1,709.1 599.1,709.2 601.1,709.2 603.1,709.2 605.1,709.2 607.1,709.2 609.1,709.2 611.2,709.2 613.2,709.2 615.2,709.2 617.2,709.2 619.2,709.2 621.2,709.1 623.2,709.1 625.2,709.1 627.2,709.1 629.2,709.1" fill="none" stroke="#FFC000" stroke-width="1.4" stroke-linejoin="round"/>
<path d="M53.7,440.7 55.7,445.8 57.7,450.7 59.7,455.6 61.7,460.4 63.7,465.1 65.7,469.7 67.7,474.2 69.7,478.6 71.7,482.9 73.8,487.2 75.8,491.3 77.8,495.5 79.8,499.5 81.8,503.5 83.8,507.4 85.8,511.3 87.8,515.2 89.8,519.1 91.8,522.9 93.8,526.7 95.8,530.5 97.8,534.3 99.8,538.1 101.8,541.9 103.8,545.7 105.8,549.4 107.8,553.2 109.8,556.9 111.9,560.5 113.9,564.1 115.9,567.6 117.9,571.0 119.9,574.3 121.9,577.4 123.9,580.5 125.9,583.4 127.9,586.3 129.9,589.1 131.9,591.8 133.9,594.5 135.9,597.2 137.9,599.8 139.9,602.4 141.9,604.9 143.9,607.4 145.9,609.8 147.9,612.1 150.0,614.4 152.0,616.6 154.0,618.8 156.0,620.8 158.0,622.8 160.0,624.8 162.0,626.6 164.0,628.4 166.0,630.2 168.0,631.9 170.0,633.5 172.0,635.1 174.0,636.6 176.0,638.1 178.0,639.6 180.0,641.0 182.0,642.4 184.0,643.7 186.0,645.1 188.1,646.4 190.1,647.6 192.1,648.9 194.1,650.0 196.1,651.2 198.1,652.3 200.1,653.3 202.1,654.3 204.1,655.2 206.1,656.0 208.1,656.8 210.1,657.5 212.1,658.1 214.1,658.6 216.1,659.1 218.1,659.4 220.1,659.8 222.1,660.0 224.1,660.3 226.1,660.5 228.2,660.6 230.2,660.8 232.2,660.9 234.2,660.9 236.2,661.0 238.2,661.0 240.2,661.0 242.2,661.0 244.2,660.9 246.2,660.8 248.2,660.7 250.2,660.6 252.2,660.4 254.2,660.2 256.2,659.9 258.2,659.7 260.2,659.4 262.2,659.1 264.2,658.8 266.3,658.4 268.3,658.0 270.3,657.6 272.3,657.2 274.3,656.8 276.3,656.3 278.3,655.8 280.3,655.3 282.3,654.7 284.3,654.2 286.3,653.6 288.3,653.0 290.3,652.4 292.3,651.8 294.3,651.2 296.3,650.6 298.3,650.1 300.3,649.5 302.3,649.0 304.4,648.6 306.4,648.1 308.4,647.8 310.4,647.4 312.4,647.1 314.4,646.8 316.4,646.5 318.4,646.2 320.4,646.0 322.4,645.8 324.4,645.7 326.4,645.5 328.4,645.4 330.4,645.4 332.4,645.3 334.4,645.3 336.4,645.3 338.4,645.4 340.4,645.5 342.5,645.6 344.5,645.8 346.5,646.0 348.5,646.3 350.5,646.6 352.5,646.9 354.5,647.3 356.5,647.7 358.5,648.2 360.5,648.7 362.5,649.2 364.5,649.9 366.5,650.5 368.5,651.3 370.5,652.1 372.5,652.9 374.5,653.8 376.5,654.8 378.5,655.7 380.6,656.7 382.6,657.7 384.6,658.7 386.6,659.7 388.6,660.7 390.6,661.7 392.6,662.6 394.6,663.5 396.6,664.4 398.6,665.3 400.6,666.1 402.6,667.0 404.6,667.8 406.6,668.6 408.6,669.4 410.6,670.2 412.6,670.9 414.6,671.7 416.6,672.4 418.7,673.2 420.7,673.9 422.7,674.6 424.7,675.3 426.7,676.0 428.7,676.7 430.7,677.4 432.7,678.1 434.7,678.8 436.7,679.5 438.7,680.2 440.7,680.9 442.7,681.7 444.7,682.4 446.7,683.1 448.7,683.9 450.7,684.6 452.7,685.4 454.7,686.1 456.8,686.9 458.8,687.7 460.8,688.4 462.8,689.2 464.8,689.9 466.8,690.7 468.8,691.4 470.8,692.0 472.8,692.7 474.8,693.3 476.8,694.0 478.8,694.6 480.8,695.1 482.8,695.7 484.8,696.2 486.8,696.7 488.8,697.2 490.8,697.7 492.8,698.2 494.8,698.6 496.9,699.1 498.9,699.5 500.9,699.9 502.9,700.3 504.9,700.7 506.9,701.0 508.9,701.4 510.9,701.8 512.9,702.1 514.9,702.4 516.9,702.8 518.9,703.1 520.9,703.4 522.9,703.6 524.9,703.9 526.9,704.2 528.9,704.4 530.9,704.7 532.9,704.9 535.0,705.1 537.0,705.4 539.0,705.6 541.0,705.8 543.0,706.0 545.0,706.1 547.0,706.3 549.0,706.5 551.0,706.7 553.0,706.8 555.0,706.9 557.0,707.1 559.0,707.2 561.0,707.3 563.0,707.4 565.0,707.5 567.0,707.6 569.0,707.6 571.0,707.7 573.1,707.8 575.1,707.9 577.1,707.9 579.1,708.0 581.1,708.0 583.1,708.1 585.1,708.1 587.1,708.2 589.1,708.2 591.1,708.3 593.1,708.3 595.1,708.3 597.1,708.4 599.1,708.4 601.1,708.4 603.1,708.4 605.1,708.5 607.1,708.5 609.1,708.5 611.2,708.5 613.2,708.5 615.2,708.5 617.2,708.5 619.2,708.5 621.2,708.5 623.2,708.5 625.2,708.4 627.2,708.4 629.2,708.4" fill="none" stroke="#4472C4" stroke-width="1.4" stroke-linejoin="round"/>
<path d="M53.7,439.7 55.7,443.5 57.7,447.3 59.7,451.1 61.7,454.9 63.7,458.7 65.7,462.5 67.7,466.3 69.7,470.1 71.7,474.0 73.8,477.8 75.8,481.7 77.8,485.5 79.8,489.4 81.8,493.3 83.8,497.2 85.8,501.1 87.8,505.1 89.8,509.0 91.8,513.0 93.8,516.9 95.8,520.9 97.8,524.8 99.8,528.8 101.8,532.7 103.8,536.6 105.8,540.4 107.8,544.2 109.8,547.9 111.9,551.6 113.9,555.2 115.9,558.7 117.9,562.2 119.9,565.5 121.9,568.8 123.9,572.0 125.9,575.1 127.9,578.2 129.9,581.1 131.9,584.1 133.9,586.9 135.9,589.8 137.9,592.6 139.9,595.3 141.9,598.1 143.9,600.8 145.9,603.5 147.9,606.1 150.0,608.7 152.0,611.2 154.0,613.6 156.0,615.9 158.0,618.1 160.0,620.3 162.0,622.3 164.0,624.2 166.0,626.1 168.0,627.9 170.0,629.6 172.0,631.2 174.0,632.8 176.0,634.3 178.0,635.7 180.0,637.1 182.0,638.5 184.0,639.8 186.0,641.0 188.1,642.2 190.1,643.3 192.1,644.3 194.1,645.4 196.1,646.3 198.1,647.2 200.1,648.1 202.1,648.9 204.1,649.6 206.1,650.3 208.1,650.9 210.1,651.5 212.1,651.9 214.1,652.3 216.1,652.6 218.1,652.9 220.1,653.0 222.1,653.1 224.1,653.1 226.1,653.1 228.2,652.9 230.2,652.7 232.2,652.5 234.2,652.2 236.2,651.8 238.2,651.4 240.2,650.9 242.2,650.3 244.2,649.7 246.2,649.1 248.2,648.4 250.2,647.6 252.2,646.8 254.2,646.0 256.2,645.0 258.2,644.0 260.2,643.0 262.2,641.9 264.2,640.7 266.3,639.5 268.3,638.3 270.3,637.0 272.3,635.7 274.3,634.4 276.3,633.1 278.3,631.8 280.3,630.5 282.3,629.3 284.3,628.0 286.3,626.8 288.3,625.7 290.3,624.5 292.3,623.4 294.3,622.3 296.3,621.2 298.3,620.2 300.3,619.1 302.3,618.1 304.4,617.0 306.4,616.0 308.4,615.0 310.4,614.0 312.4,613.1 314.4,612.2 316.4,611.3 318.4,610.5 320.4,609.7 322.4,609.0 324.4,608.4 326.4,607.8 328.4,607.4 330.4,606.9 332.4,606.6 334.4,606.3 336.4,606.1 338.4,606.0 340.4,605.9 342.5,606.0 344.5,606.1 346.5,606.2 348.5,606.5 350.5,606.8 352.5,607.2 354.5,607.7 356.5,608.1 358.5,608.7 360.5,609.3 362.5,609.9 364.5,610.6 366.5,611.3 368.5,612.0 370.5,612.8 372.5,613.7 374.5,614.6 376.5,615.5 378.5,616.5 380.6,617.6 382.6,618.7 384.6,619.9 386.6,621.1 388.6,622.4 390.6,623.7 392.6,625.0 394.6,626.3 396.6,627.7 398.6,629.0 400.6,630.4 402.6,631.7 404.6,633.0 406.6,634.3 408.6,635.6 410.6,636.9 412.6,638.2 414.6,639.5 416.6,640.9 418.7,642.3 420.7,643.7 422.7,645.2 424.7,646.8 426.7,648.3 428.7,649.9 430.7,651.6 432.7,653.2 434.7,654.8 436.7,656.4 438.7,658.1 440.7,659.6 442.7,661.2 444.7,662.8 446.7,664.3 448.7,665.7 450.7,667.2 452.7,668.6 454.7,670.0 456.8,671.4 458.8,672.7 460.8,674.0 462.8,675.2 464.8,676.4 466.8,677.5 468.8,678.6 470.8,679.7 472.8,680.7 474.8,681.7 476.8,682.6 478.8,683.5 480.8,684.4 482.8,685.3 484.8,686.1 486.8,687.0 488.8,687.8 490.8,688.5 492.8,689.3 494.8,690.0 496.9,690.7 498.9,691.4 500.9,692.1 502.9,692.8 504.9,693.5 506.9,694.1 508.9,694.7 510.9,695.3 512.9,695.9 514.9,696.5 516.9,697.0 518.9,697.6 520.9,698.1 522.9,698.6 524.9,699.0 526.9,699.5 528.9,699.9 530.9,700.3 532.9,700.7 535.0,701.1 537.0,701.5 539.0,701.9 541.0,702.2 543.0,702.5 545.0,702.8 547.0,703.1 549.0,703.4 551.0,703.7 553.0,703.9 555.0,704.2 557.0,704.4 559.0,704.6 561.0,704.8 563.0,705.0 565.0,705.2 567.0,705.4 569.0,705.6 571.0,705.7 573.1,705.9 575.1,706.0 577.1,706.1 579.1,706.2 581.1,706.4 583.1,706.5 585.1,706.5 587.1,706.6 589.1,706.7 591.1,706.8 593.1,706.9 595.1,707.0 597.1,707.1 599.1,707.1 601.1,707.2 603.1,707.3 605.1,707.4 607.1,707.4 609.1,707.5 611.2,707.5 613.2,707.6 615.2,707.6 617.2,707.7 619.2,707.7 621.2,707.7 623.2,707.7 625.2,707.8 627.2,707.8 629.2,707.8" fill="none" stroke="#70AD47" stroke-width="1.4" stroke-linejoin="round"/>
<path d="M47.4,410.7 H53.9 V719.6 M47.4,561.9 H53.9 M47.4,713.1 H629 V719.6 M341.2,713.1 V719.6" fill="none" stroke="#111" stroke-width="2"/>
<text x="33" y="418.4" font-size="25" text-anchor="end" >0.9</text>
<text x="33.5" y="721.4" font-size="25" text-anchor="end" >0</text>
<text x="54.3" y="749.6" font-size="25" text-anchor="middle" >190</text>
<text x="340.7" y="749.6" font-size="25" text-anchor="middle" >225</text>
<text x="628" y="749.6" font-size="25" text-anchor="middle" >260</text>
<text x="406.2" y="757.3" font-size="24.3" text-anchor="start" >Wavelength (nm)</text>
<path d="M122.2,418.5 H135.7" stroke="#5B9BD5" stroke-width="1.25"/>
<text x="136.3" y="423.7" font-size="16.2" text-anchor="start" >BP suspension (4.31 mM)</text>
<path d="M122.2,438.8 H135.7" stroke="#ED7D31" stroke-width="1.25"/>
<text x="136.3" y="444.0" font-size="16.2" text-anchor="start" >ACTH 18-39 (20 µM)</text>
<path d="M122.2,459.1 H135.7" stroke="#A5A5A5" stroke-width="1.25"/>
<text x="136.3" y="464.3" font-size="16.2" text-anchor="start" >ACTH+15 µL BP suspension</text>
<path d="M122.2,479.4 H135.7" stroke="#FFC000" stroke-width="1.25"/>
<text x="136.3" y="484.6" font-size="16.2" text-anchor="start" >+45 µL</text>
<path d="M122.2,499.7 H135.7" stroke="#4472C4" stroke-width="1.25"/>
<text x="136.3" y="504.9" font-size="16.2" text-anchor="start" >+105 µL</text>
<path d="M122.2,520.0 H135.7" stroke="#70AD47" stroke-width="1.25"/>
<text x="136.3" y="525.2" font-size="16.2" text-anchor="start" >+195 µL</text>
<path d="M373.3,404.5 H377.3 V535.5 M373.3,468.25 H377.3 M377.3,532 H640.4 V535.5 M508.85,532 V535.5" fill="none" stroke="#6E6E6E" stroke-width="1.4"/>
<path d="M378,519.6 L625.4,416.8" stroke="#4A8FD6" stroke-width="1.3"/>
<path d="M377.3,531.7 L625.4,496.4" stroke="#F08A45" stroke-width="1.2" stroke-dasharray="1.3,1.3"/>
<path d="M374.3,518.9 L380.7,518.9 L377.5,512.8 Z" fill="#3D8BD9"/>
<path d="M397.3,513.5 L403.7,513.5 L400.5,507.4 Z" fill="#3D8BD9"/>
<path d="M443.1,498.8 L449.5,498.8 L446.3,492.7 Z" fill="#3D8BD9"/>
<path d="M521.7,462.2 L528.1,462.2 L524.9,456.1 Z" fill="#3D8BD9"/>
<path d="M622.2,418.7 L628.6,418.7 L625.4,412.6 Z" fill="#3D8BD9"/>
<circle cx="377.5" cy="531.8" r="3.3" fill="#F07A22"/>
<circle cx="400.5" cy="527.8" r="3.3" fill="#F07A22"/>
<circle cx="446.3" cy="520" r="3.3" fill="#F07A22"/>
<circle cx="524.9" cy="510.2" r="3.3" fill="#F07A22"/>
<circle cx="625.4" cy="495.6" r="3.3" fill="#F07A22"/>
<path d="M430.0,581.9 L436.0,581.9 L433.0,576.2 Z" fill="#3D8BD9"/>
<circle cx="433" cy="594" r="3.2" fill="#F07A22"/>
<text x="366" y="408.8" font-size="13.2" text-anchor="end" >0.35</text>
<text x="366.5" y="536" font-size="13.2" text-anchor="end" >0</text>
<text x="377.5" y="551.8" font-size="13.2" text-anchor="middle" >0</text>
<text x="508.8" y="551.4" font-size="13.2" text-anchor="middle" >0.5</text>
<text x="640.6" y="551.6" font-size="13.2" text-anchor="middle" >1</text>
<text x="447" y="563.3" font-size="13.6" text-anchor="start" >BP suspension (mM)</text>
<text x="500.8" y="411.1" font-size="13.7" text-anchor="start" >y = 0.2993x + 0.0339</text>
<text x="527.5" y="426.8" font-size="13.7" text-anchor="start" >R² = 0.9932</text>
<text x="502" y="480.7" font-size="13.7" text-anchor="start" >y = 0.1028x + 0.0009</text>
<text x="529" y="495.6" font-size="13.7" text-anchor="start" >R² = 0.9995</text>
<text x="439.4" y="583.5" font-size="13.6" text-anchor="start" >ACTH 18-39 + BP suspension</text>
<text x="439.4" y="598" font-size="13.6" text-anchor="start" >Water + BP suspension</text>
<path d="M53.1,1019.2 55.1,1020.5 57.1,1021.8 59.1,1023.1 61.1,1024.3 63.1,1025.6 65.1,1026.9 67.1,1028.1 69.1,1029.3 71.1,1030.5 73.1,1031.7 75.1,1032.9 77.1,1034.0 79.1,1035.2 81.1,1036.3 83.1,1037.4 85.1,1038.5 87.1,1039.6 89.1,1040.6 91.1,1041.7 93.1,1042.7 95.1,1043.8 97.1,1044.8 99.1,1045.8 101.1,1046.7 103.1,1047.7 105.1,1048.6 107.1,1049.5 109.1,1050.4 111.2,1051.2 113.2,1052.1 115.2,1052.9 117.2,1053.7 119.2,1054.5 121.2,1055.3 123.2,1056.0 125.2,1056.7 127.2,1057.5 129.2,1058.1 131.2,1058.8 133.2,1059.5 135.2,1060.1 137.2,1060.7 139.2,1061.2 141.2,1061.8 143.2,1062.3 145.2,1062.8 147.2,1063.3 149.2,1063.8 151.2,1064.3 153.2,1064.7 155.2,1065.2 157.2,1065.6 159.2,1066.0 161.2,1066.4 163.2,1066.7 165.2,1067.1 167.2,1067.4 169.2,1067.7 171.2,1068.0 173.2,1068.3 175.2,1068.6 177.2,1068.8 179.2,1069.0 181.2,1069.3 183.2,1069.5 185.2,1069.7 187.2,1069.9 189.2,1070.1 191.2,1070.3 193.2,1070.5 195.2,1070.7 197.2,1070.8 199.2,1071.0 201.2,1071.1 203.2,1071.3 205.2,1071.4 207.2,1071.5 209.2,1071.6 211.2,1071.8 213.2,1071.9 215.2,1072.0 217.2,1072.1 219.2,1072.3 221.2,1072.4 223.2,1072.5 225.2,1072.6 227.3,1072.7 229.3,1072.8 231.3,1072.9 233.3,1073.0 235.3,1073.1 237.3,1073.2 239.3,1073.2 241.3,1073.3 243.3,1073.3 245.3,1073.4 247.3,1073.4 249.3,1073.5 251.3,1073.5 253.3,1073.5 255.3,1073.5 257.3,1073.5 259.3,1073.5 261.3,1073.6 263.3,1073.6 265.3,1073.6 267.3,1073.6 269.3,1073.6 271.3,1073.6 273.3,1073.6 275.3,1073.6 277.3,1073.6 279.3,1073.6 281.3,1073.6 283.3,1073.6 285.3,1073.6 287.3,1073.6 289.3,1073.6 291.3,1073.7 293.3,1073.7 295.3,1073.7 297.3,1073.7 299.3,1073.7 301.3,1073.7 303.3,1073.8 305.3,1073.8 307.3,1073.8 309.3,1073.8 311.3,1073.8 313.3,1073.9 315.3,1073.9 317.3,1073.9 319.3,1073.9 321.3,1073.9 323.3,1074.0 325.3,1074.0 327.3,1074.0 329.3,1074.0 331.3,1074.0 333.3,1074.1 335.3,1074.1 337.3,1074.1 339.3,1074.1 341.4,1074.2 343.4,1074.2 345.4,1074.2 347.4,1074.2 349.4,1074.2 351.4,1074.2 353.4,1074.3 355.4,1074.3 357.4,1074.3 359.4,1074.3 361.4,1074.3 363.4,1074.3 365.4,1074.3 367.4,1074.3 369.4,1074.3 371.4,1074.3 373.4,1074.4 375.4,1074.4 377.4,1074.4 379.4,1074.4 381.4,1074.4 383.4,1074.4 385.4,1074.4 387.4,1074.4 389.4,1074.4 391.4,1074.4 393.4,1074.4 395.4,1074.4 397.4,1074.4 399.4,1074.4 401.4,1074.4 403.4,1074.4 405.4,1074.4 407.4,1074.4 409.4,1074.4 411.4,1074.4 413.4,1074.4 415.4,1074.4 417.4,1074.4 419.4,1074.4 421.4,1074.4 423.4,1074.4 425.4,1074.4 427.4,1074.5 429.4,1074.5 431.4,1074.5 433.4,1074.5 435.4,1074.5 437.4,1074.5 439.4,1074.5 441.4,1074.5 443.4,1074.5 445.4,1074.5 447.4,1074.5 449.4,1074.6 451.4,1074.6 453.4,1074.6 455.5,1074.6 457.5,1074.6 459.5,1074.6 461.5,1074.6 463.5,1074.6 465.5,1074.6 467.5,1074.7 469.5,1074.7 471.5,1074.7 473.5,1074.7 475.5,1074.7 477.5,1074.7 479.5,1074.7 481.5,1074.8 483.5,1074.8 485.5,1074.8 487.5,1074.8 489.5,1074.8 491.5,1074.8 493.5,1074.8 495.5,1074.9 497.5,1074.9 499.5,1074.9 501.5,1074.9 503.5,1074.9 505.5,1074.9 507.5,1074.9 509.5,1074.9 511.5,1075.0 513.5,1075.0 515.5,1075.0 517.5,1075.0 519.5,1075.0 521.5,1075.0 523.5,1075.0 525.5,1075.0 527.5,1075.0 529.5,1075.0 531.5,1075.1 533.5,1075.1 535.5,1075.1 537.5,1075.1 539.5,1075.1 541.5,1075.1 543.5,1075.1 545.5,1075.1 547.5,1075.1 549.5,1075.2 551.5,1075.2 553.5,1075.2 555.5,1075.2 557.5,1075.2 559.5,1075.2 561.5,1075.2 563.5,1075.2 565.5,1075.2 567.5,1075.2 569.5,1075.3 571.6,1075.3 573.6,1075.3 575.6,1075.3 577.6,1075.3 579.6,1075.3 581.6,1075.3 583.6,1075.3 585.6,1075.3 587.6,1075.3 589.6,1075.3 591.6,1075.4 593.6,1075.4 595.6,1075.4 597.6,1075.4 599.6,1075.4 601.6,1075.4 603.6,1075.4 605.6,1075.4 607.6,1075.4 609.6,1075.4 611.6,1075.4 613.6,1075.4 615.6,1075.5 617.6,1075.5 619.6,1075.5 621.6,1075.5 623.6,1075.5 625.6,1075.5 627.6,1075.5" fill="none" stroke="#5B9BD5" stroke-width="1.4" stroke-linejoin="round"/>
<path d="M53.4,886.0 55.4,890.3 57.4,894.5 59.4,898.8 61.4,903.0 63.4,907.3 65.4,911.6 67.4,915.8 69.4,920.2 71.4,924.5 73.4,928.8 75.4,933.2 77.4,937.6 79.4,942.1 81.4,946.5 83.4,951.0 85.4,955.4 87.4,959.6 89.4,963.8 91.4,967.8 93.4,971.7 95.4,975.3 97.4,978.7 99.4,982.0 101.4,985.0 103.4,987.8 105.4,990.4 107.4,992.9 109.4,995.2 111.4,997.4 113.4,999.5 115.4,1001.4 117.4,1003.2 119.4,1004.9 121.4,1006.5 123.4,1007.8 125.4,1009.1 127.4,1010.2 129.4,1011.2 131.4,1012.1 133.4,1012.8 135.4,1013.5 137.4,1014.2 139.4,1014.7 141.4,1015.2 143.4,1015.6 145.4,1016.0 147.4,1016.4 149.4,1016.7 151.4,1017.0 153.4,1017.3 155.4,1017.5 157.4,1017.8 159.4,1018.0 161.4,1018.2 163.4,1018.4 165.4,1018.6 167.4,1018.7 169.4,1018.8 171.4,1018.9 173.4,1018.9 175.4,1018.9 177.4,1018.9 179.4,1018.9 181.4,1018.8 183.4,1018.7 185.4,1018.6 187.4,1018.4 189.4,1018.3 191.4,1018.1 193.4,1017.9 195.4,1017.7 197.5,1017.5 199.5,1017.2 201.5,1017.0 203.5,1016.7 205.5,1016.4 207.5,1016.2 209.5,1015.9 211.5,1015.6 213.5,1015.2 215.5,1014.9 217.5,1014.6 219.5,1014.2 221.5,1013.8 223.5,1013.5 225.5,1013.1 227.5,1012.7 229.5,1012.3 231.5,1011.9 233.5,1011.5 235.5,1011.1 237.5,1010.7 239.5,1010.3 241.5,1009.8 243.5,1009.4 245.5,1009.0 247.5,1008.5 249.5,1008.1 251.5,1007.7 253.5,1007.2 255.5,1006.8 257.5,1006.3 259.5,1005.8 261.5,1005.3 263.5,1004.9 265.5,1004.4 267.5,1003.9 269.5,1003.4 271.5,1002.8 273.5,1002.3 275.5,1001.8 277.5,1001.2 279.5,1000.7 281.5,1000.1 283.5,999.6 285.5,999.0 287.5,998.4 289.5,997.8 291.5,997.2 293.5,996.6 295.5,996.0 297.5,995.3 299.5,994.7 301.5,994.0 303.5,993.3 305.5,992.6 307.5,991.9 309.5,991.1 311.5,990.4 313.5,989.6 315.5,988.8 317.5,988.0 319.5,987.2 321.5,986.4 323.5,985.6 325.5,984.9 327.5,984.1 329.5,983.4 331.5,982.6 333.5,981.9 335.5,981.2 337.5,980.4 339.5,979.7 341.5,979.0 343.5,978.3 345.5,977.6 347.5,976.9 349.5,976.2 351.5,975.5 353.5,974.8 355.5,974.2 357.5,973.5 359.5,972.8 361.5,972.1 363.5,971.5 365.5,970.8 367.5,970.2 369.5,969.5 371.5,968.9 373.5,968.3 375.5,967.7 377.5,967.1 379.5,966.5 381.5,965.9 383.5,965.3 385.5,964.7 387.5,964.2 389.5,963.6 391.5,963.1 393.5,962.5 395.5,961.9 397.5,961.4 399.5,960.8 401.5,960.3 403.5,959.8 405.5,959.2 407.5,958.7 409.5,958.2 411.5,957.7 413.5,957.2 415.5,956.7 417.5,956.3 419.5,955.8 421.5,955.4 423.5,955.0 425.5,954.6 427.5,954.2 429.5,953.9 431.5,953.6 433.5,953.3 435.5,953.0 437.5,952.8 439.5,952.5 441.5,952.4 443.5,952.2 445.5,952.1 447.5,952.0 449.5,952.0 451.5,952.0 453.5,952.0 455.5,952.0 457.5,952.1 459.5,952.2 461.5,952.3 463.5,952.5 465.5,952.6 467.5,952.8 469.5,953.0 471.5,953.3 473.5,953.5 475.5,953.8 477.5,954.0 479.5,954.4 481.5,954.7 483.5,955.1 485.6,955.6 487.6,956.0 489.6,956.5 491.6,957.1 493.6,957.7 495.6,958.3 497.6,958.9 499.6,959.6 501.6,960.3 503.6,961.0 505.6,961.8 507.6,962.5 509.6,963.3 511.6,964.1 513.6,965.0 515.6,965.8 517.6,966.8 519.6,967.7 521.6,968.8 523.6,969.9 525.6,971.0 527.6,972.2 529.6,973.5 531.6,974.8 533.6,976.2 535.6,977.6 537.6,979.0 539.6,980.5 541.6,982.0 543.6,983.6 545.6,985.2 547.6,986.9 549.6,988.6 551.6,990.4 553.6,992.3 555.6,994.2 557.6,996.2 559.6,998.3 561.6,1000.4 563.6,1002.5 565.6,1004.6 567.6,1006.8 569.6,1008.9 571.6,1011.1 573.6,1013.3 575.6,1015.4 577.6,1017.5 579.6,1019.6 581.6,1021.6 583.6,1023.5 585.6,1025.3 587.6,1027.1 589.6,1028.8 591.6,1030.5 593.6,1032.1 595.6,1033.7 597.6,1035.2 599.6,1036.7 601.6,1038.2 603.6,1039.6 605.6,1041.0 607.6,1042.3 609.6,1043.6 611.6,1044.9 613.6,1046.1 615.6,1047.2 617.6,1048.3 619.6,1049.3 621.6,1050.3 623.6,1051.2 625.6,1052.1 627.6,1052.9" fill="none" stroke="#ED7D31" stroke-width="1.4" stroke-linejoin="round"/>
<path d="M53.4,889.6 55.4,893.7 57.4,897.8 59.4,901.9 61.4,906.0 63.4,910.2 65.4,914.3 67.4,918.4 69.4,922.6 71.4,926.7 73.4,930.9 75.4,935.1 77.4,939.4 79.4,943.6 81.4,947.9 83.4,952.2 85.4,956.3 87.4,960.4 89.4,964.4 91.4,968.2 93.4,971.9 95.4,975.3 97.4,978.5 99.4,981.5 101.4,984.4 103.4,987.0 105.4,989.4 107.4,991.7 109.4,993.8 111.4,995.8 113.4,997.7 115.4,999.5 117.4,1001.2 119.4,1002.8 121.4,1004.2 123.4,1005.5 125.4,1006.7 127.4,1007.8 129.4,1008.7 131.4,1009.6 133.4,1010.4 135.4,1011.1 137.4,1011.7 139.4,1012.3 141.4,1012.8 143.4,1013.2 145.4,1013.6 147.4,1014.0 149.4,1014.3 151.4,1014.6 153.4,1014.8 155.4,1015.1 157.4,1015.3 159.4,1015.6 161.4,1015.8 163.4,1016.0 165.4,1016.1 167.4,1016.3 169.4,1016.4 171.4,1016.4 173.4,1016.5 175.4,1016.5 177.4,1016.4 179.4,1016.4 181.4,1016.3 183.4,1016.2 185.4,1016.1 187.4,1016.0 189.4,1015.8 191.4,1015.7 193.4,1015.5 195.4,1015.3 197.5,1015.1 199.5,1014.9 201.5,1014.7 203.5,1014.5 205.5,1014.2 207.5,1014.0 209.5,1013.7 211.5,1013.5 213.5,1013.2 215.5,1012.9 217.5,1012.6 219.5,1012.2 221.5,1011.9 223.5,1011.5 225.5,1011.2 227.5,1010.8 229.5,1010.4 231.5,1010.0 233.5,1009.6 235.5,1009.2 237.5,1008.8 239.5,1008.4 241.5,1008.0 243.5,1007.5 245.5,1007.1 247.5,1006.6 249.5,1006.2 251.5,1005.7 253.5,1005.2 255.5,1004.8 257.5,1004.3 259.5,1003.8 261.5,1003.3 263.5,1002.7 265.5,1002.2 267.5,1001.7 269.5,1001.1 271.5,1000.6 273.5,1000.0 275.5,999.4 277.5,998.9 279.5,998.3 281.5,997.7 283.5,997.1 285.5,996.5 287.5,996.0 289.5,995.4 291.5,994.8 293.5,994.2 295.5,993.6 297.5,993.0 299.5,992.4 301.5,991.8 303.5,991.2 305.5,990.6 307.5,990.0 309.5,989.4 311.5,988.7 313.5,988.1 315.5,987.5 317.5,986.9 319.5,986.2 321.5,985.6 323.5,985.0 325.5,984.4 327.5,983.7 329.5,983.1 331.5,982.5 333.5,981.9 335.5,981.3 337.5,980.7 339.5,980.1 341.5,979.5 343.5,978.9 345.5,978.3 347.5,977.7 349.5,977.1 351.5,976.5 353.5,975.9 355.5,975.3 357.5,974.7 359.5,974.2 361.5,973.6 363.5,973.0 365.5,972.4 367.5,971.8 369.5,971.3 371.5,970.7 373.5,970.2 375.5,969.6 377.5,969.1 379.5,968.5 381.5,968.0 383.5,967.5 385.5,966.9 387.5,966.4 389.5,965.9 391.5,965.3 393.5,964.8 395.5,964.3 397.5,963.7 399.5,963.2 401.5,962.7 403.5,962.1 405.5,961.6 407.5,961.1 409.5,960.6 411.5,960.1 413.5,959.6 415.5,959.1 417.5,958.7 419.5,958.2 421.5,957.8 423.5,957.4 425.5,957.0 427.5,956.6 429.5,956.2 431.5,955.9 433.5,955.6 435.5,955.3 437.5,955.1 439.5,954.8 441.5,954.7 443.5,954.5 445.5,954.4 447.5,954.3 449.5,954.3 451.5,954.3 453.5,954.3 455.5,954.3 457.5,954.4 459.5,954.5 461.5,954.7 463.5,954.8 465.5,955.0 467.5,955.2 469.5,955.4 471.5,955.6 473.5,955.9 475.5,956.1 477.5,956.4 479.5,956.7 481.5,957.1 483.5,957.5 485.6,957.9 487.6,958.3 489.6,958.8 491.6,959.3 493.6,959.9 495.6,960.5 497.6,961.1 499.6,961.7 501.6,962.3 503.6,963.0 505.6,963.7 507.6,964.4 509.6,965.1 511.6,965.9 513.6,966.6 515.6,967.5 517.6,968.3 519.6,969.2 521.6,970.2 523.6,971.2 525.6,972.2 527.6,973.3 529.6,974.5 531.6,975.7 533.6,976.9 535.6,978.2 537.6,979.6 539.6,980.9 541.6,982.4 543.6,983.8 545.6,985.3 547.6,986.9 549.6,988.6 551.6,990.3 553.6,992.1 555.6,993.9 557.6,995.9 559.6,997.8 561.6,999.8 563.6,1001.9 565.6,1003.9 567.6,1005.9 569.6,1008.0 571.6,1010.0 573.6,1012.1 575.6,1014.1 577.6,1016.0 579.6,1018.0 581.6,1019.8 583.6,1021.7 585.6,1023.4 587.6,1025.1 589.6,1026.7 591.6,1028.3 593.6,1029.8 595.6,1031.3 597.6,1032.8 599.6,1034.2 601.6,1035.7 603.6,1037.0 605.6,1038.4 607.6,1039.7 609.6,1040.9 611.6,1042.1 613.6,1043.3 615.6,1044.4 617.6,1045.5 619.6,1046.5 621.6,1047.5 623.6,1048.4 625.6,1049.3 627.6,1050.1" fill="none" stroke="#A5A5A5" stroke-width="1.4" stroke-linejoin="round"/>
<path d="M53.4,891.5 55.4,895.5 57.4,899.6 59.4,903.6 61.4,907.6 63.4,911.6 65.4,915.7 67.4,919.7 69.4,923.8 71.4,927.9 73.4,932.0 75.4,936.1 77.4,940.2 79.4,944.4 81.4,948.6 83.4,952.7 85.4,956.8 87.4,960.8 89.4,964.7 91.4,968.4 93.4,972.0 95.4,975.3 97.4,978.4 99.4,981.4 101.4,984.0 103.4,986.5 105.4,988.9 107.4,991.0 109.4,993.0 111.4,994.9 113.4,996.7 115.4,998.3 117.4,999.9 119.4,1001.3 121.4,1002.7 123.4,1003.9 125.4,1005.0 127.4,1006.0 129.4,1006.9 131.4,1007.7 133.4,1008.5 135.4,1009.2 137.4,1009.8 139.4,1010.4 141.4,1010.9 143.4,1011.4 145.4,1011.8 147.4,1012.2 149.4,1012.5 151.4,1012.8 153.4,1013.2 155.4,1013.5 157.4,1013.7 159.4,1014.0 161.4,1014.3 163.4,1014.5 165.4,1014.7 167.4,1014.8 169.4,1014.9 171.4,1015.0 173.4,1015.0 175.4,1015.0 177.4,1015.0 179.4,1014.9 181.4,1014.8 183.4,1014.7 185.4,1014.6 187.4,1014.4 189.4,1014.2 191.4,1014.0 193.4,1013.8 195.4,1013.6 197.5,1013.4 199.5,1013.2 201.5,1013.0 203.5,1012.7 205.5,1012.5 207.5,1012.2 209.5,1011.9 211.5,1011.7 213.5,1011.4 215.5,1011.1 217.5,1010.8 219.5,1010.5 221.5,1010.2 223.5,1009.9 225.5,1009.5 227.5,1009.2 229.5,1008.8 231.5,1008.5 233.5,1008.1 235.5,1007.7 237.5,1007.4 239.5,1007.0 241.5,1006.6 243.5,1006.2 245.5,1005.7 247.5,1005.3 249.5,1004.9 251.5,1004.4 253.5,1003.9 255.5,1003.5 257.5,1003.0 259.5,1002.5 261.5,1001.9 263.5,1001.4 265.5,1000.9 267.5,1000.3 269.5,999.8 271.5,999.2 273.5,998.6 275.5,998.0 277.5,997.5 279.5,996.9 281.5,996.3 283.5,995.7 285.5,995.1 287.5,994.6 289.5,994.0 291.5,993.4 293.5,992.8 295.5,992.3 297.5,991.7 299.5,991.2 301.5,990.6 303.5,990.1 305.5,989.5 307.5,989.0 309.5,988.5 311.5,987.9 313.5,987.4 315.5,986.9 317.5,986.3 319.5,985.8 321.5,985.2 323.5,984.7 325.5,984.1 327.5,983.6 329.5,983.0 331.5,982.5 333.5,981.9 335.5,981.3 337.5,980.7 339.5,980.1 341.5,979.5 343.5,978.9 345.5,978.3 347.5,977.7 349.5,977.1 351.5,976.4 353.5,975.8 355.5,975.2 357.5,974.6 359.5,973.9 361.5,973.3 363.5,972.7 365.5,972.1 367.5,971.5 369.5,970.9 371.5,970.3 373.5,969.7 375.5,969.1 377.5,968.5 379.5,967.9 381.5,967.3 383.5,966.8 385.5,966.2 387.5,965.7 389.5,965.1 391.5,964.6 393.5,964.0 395.5,963.5 397.5,962.9 399.5,962.4 401.5,961.8 403.5,961.3 405.5,960.8 407.5,960.2 409.5,959.7 411.5,959.2 413.5,958.7 415.5,958.2 417.5,957.8 419.5,957.3 421.5,956.9 423.5,956.4 425.5,956.0 427.5,955.6 429.5,955.3 431.5,954.9 433.5,954.6 435.5,954.3 437.5,954.1 439.5,953.9 441.5,953.7 443.5,953.5 445.5,953.4 447.5,953.3 449.5,953.2 451.5,953.2 453.5,953.2 455.5,953.3 457.5,953.4 459.5,953.5 461.5,953.6 463.5,953.8 465.5,953.9 467.5,954.1 469.5,954.3 471.5,954.5 473.5,954.8 475.5,955.0 477.5,955.3 479.5,955.7 481.5,956.0 483.5,956.4 485.6,956.8 487.6,957.3 489.6,957.8 491.6,958.3 493.6,958.9 495.6,959.5 497.6,960.1 499.6,960.8 501.6,961.4 503.6,962.1 505.6,962.9 507.6,963.6 509.6,964.4 511.6,965.1 513.6,966.0 515.6,966.8 517.6,967.7 519.6,968.7 521.6,969.7 523.6,970.7 525.6,971.8 527.6,973.0 529.6,974.2 531.6,975.4 533.6,976.7 535.6,978.1 537.6,979.4 539.6,980.8 541.6,982.3 543.6,983.8 545.6,985.3 547.6,986.9 549.6,988.5 551.6,990.2 553.6,991.9 555.6,993.7 557.6,995.6 559.6,997.4 561.6,999.3 563.6,1001.3 565.6,1003.2 567.6,1005.1 569.6,1007.1 571.6,1009.0 573.6,1010.9 575.6,1012.8 577.6,1014.7 579.6,1016.5 581.6,1018.3 583.6,1020.0 585.6,1021.7 587.6,1023.3 589.6,1024.8 591.6,1026.3 593.6,1027.8 595.6,1029.2 597.6,1030.6 599.6,1031.9 601.6,1033.3 603.6,1034.6 605.6,1035.8 607.6,1037.1 609.6,1038.3 611.6,1039.4 613.6,1040.5 615.6,1041.6 617.6,1042.6 619.6,1043.6 621.6,1044.5 623.6,1045.4 625.6,1046.2 627.6,1047.0" fill="none" stroke="#FFC000" stroke-width="1.4" stroke-linejoin="round"/>
<path d="M53.4,897.0 55.4,900.9 57.4,904.7 59.4,908.6 61.4,912.5 63.4,916.3 65.4,920.2 67.4,924.0 69.4,927.8 71.4,931.7 73.4,935.5 75.4,939.4 77.4,943.2 79.4,947.1 81.4,951.0 83.4,954.8 85.4,958.5 87.4,962.2 89.4,965.8 91.4,969.2 93.4,972.4 95.4,975.4 97.4,978.3 99.4,980.9 101.4,983.4 103.4,985.7 105.4,987.8 107.4,989.8 109.4,991.7 111.4,993.5 113.4,995.2 115.4,996.7 117.4,998.2 119.4,999.6 121.4,1000.9 123.4,1002.0 125.4,1003.1 127.4,1004.0 129.4,1004.8 131.4,1005.6 133.4,1006.3 135.4,1007.0 137.4,1007.5 139.4,1008.1 141.4,1008.6 143.4,1009.0 145.4,1009.5 147.4,1009.9 149.4,1010.3 151.4,1010.7 153.4,1011.0 155.4,1011.4 157.4,1011.7 159.4,1012.1 161.4,1012.4 163.4,1012.6 165.4,1012.9 167.4,1013.1 169.4,1013.2 171.4,1013.3 173.4,1013.4 175.4,1013.4 177.4,1013.4 179.4,1013.3 181.4,1013.2 183.4,1013.1 185.4,1012.9 187.4,1012.7 189.4,1012.5 191.4,1012.3 193.4,1012.1 195.4,1011.9 197.5,1011.6 199.5,1011.4 201.5,1011.1 203.5,1010.8 205.5,1010.6 207.5,1010.3 209.5,1010.0 211.5,1009.8 213.5,1009.5 215.5,1009.2 217.5,1008.9 219.5,1008.6 221.5,1008.3 223.5,1008.0 225.5,1007.6 227.5,1007.3 229.5,1007.0 231.5,1006.6 233.5,1006.3 235.5,1005.9 237.5,1005.6 239.5,1005.2 241.5,1004.8 243.5,1004.4 245.5,1004.0 247.5,1003.6 249.5,1003.2 251.5,1002.7 253.5,1002.3 255.5,1001.8 257.5,1001.3 259.5,1000.8 261.5,1000.3 263.5,999.8 265.5,999.3 267.5,998.7 269.5,998.2 271.5,997.6 273.5,997.1 275.5,996.5 277.5,996.0 279.5,995.4 281.5,994.8 283.5,994.3 285.5,993.7 287.5,993.2 289.5,992.6 291.5,992.1 293.5,991.6 295.5,991.0 297.5,990.5 299.5,990.0 301.5,989.5 303.5,989.0 305.5,988.6 307.5,988.1 309.5,987.6 311.5,987.2 313.5,986.7 315.5,986.2 317.5,985.8 319.5,985.3 321.5,984.8 323.5,984.4 325.5,983.9 327.5,983.4 329.5,982.9 331.5,982.4 333.5,981.9 335.5,981.4 337.5,980.9 339.5,980.4 341.5,979.8 343.5,979.3 345.5,978.8 347.5,978.2 349.5,977.7 351.5,977.1 353.5,976.6 355.5,976.0 357.5,975.4 359.5,974.9 361.5,974.3 363.5,973.8 365.5,973.2 367.5,972.7 369.5,972.1 371.5,971.6 373.5,971.1 375.5,970.6 377.5,970.0 379.5,969.5 381.5,969.0 383.5,968.5 385.5,968.0 387.5,967.5 389.5,967.1 391.5,966.6 393.5,966.1 395.5,965.6 397.5,965.1 399.5,964.6 401.5,964.1 403.5,963.7 405.5,963.2 407.5,962.7 409.5,962.3 411.5,961.8 413.5,961.4 415.5,960.9 417.5,960.5 419.5,960.1 421.5,959.7 423.5,959.3 425.5,959.0 427.5,958.6 429.5,958.3 431.5,958.0 433.5,957.7 435.5,957.5 437.5,957.2 439.5,957.0 441.5,956.9 443.5,956.7 445.5,956.6 447.5,956.5 449.5,956.5 451.5,956.5 453.5,956.5 455.5,956.6 457.5,956.7 459.5,956.8 461.5,956.9 463.5,957.1 465.5,957.2 467.5,957.4 469.5,957.6 471.5,957.8 473.5,958.1 475.5,958.3 477.5,958.6 479.5,958.9 481.5,959.3 483.5,959.7 485.6,960.1 487.6,960.5 489.6,961.0 491.6,961.5 493.6,962.1 495.6,962.6 497.6,963.2 499.6,963.8 501.6,964.5 503.6,965.1 505.6,965.8 507.6,966.5 509.6,967.2 511.6,967.9 513.6,968.6 515.6,969.4 517.6,970.2 519.6,971.0 521.6,971.9 523.6,972.8 525.6,973.8 527.6,974.8 529.6,975.8 531.6,976.9 533.6,978.0 535.6,979.2 537.6,980.4 539.6,981.6 541.6,982.9 543.6,984.2 545.6,985.5 547.6,987.0 549.6,988.4 551.6,990.0 553.6,991.6 555.6,993.3 557.6,995.0 559.6,996.8 561.6,998.6 563.6,1000.4 565.6,1002.2 567.6,1004.0 569.6,1005.9 571.6,1007.7 573.6,1009.5 575.6,1011.3 577.6,1013.1 579.6,1014.8 581.6,1016.5 583.6,1018.1 585.6,1019.7 587.6,1021.2 589.6,1022.7 591.6,1024.1 593.6,1025.5 595.6,1026.9 597.6,1028.2 599.6,1029.5 601.6,1030.8 603.6,1032.0 605.6,1033.2 607.6,1034.4 609.6,1035.5 611.6,1036.6 613.6,1037.7 615.6,1038.7 617.6,1039.7 619.6,1040.6 621.6,1041.5 623.6,1042.3 625.6,1043.1 627.6,1043.9" fill="none" stroke="#4472C4" stroke-width="1.4" stroke-linejoin="round"/>
<path d="M53.4,904.4 55.4,907.9 57.4,911.4 59.4,914.9 61.4,918.4 63.4,921.8 65.4,925.3 67.4,928.8 69.4,932.3 71.4,935.7 73.4,939.2 75.4,942.7 77.4,946.3 79.4,949.8 81.4,953.3 83.4,956.8 85.4,960.2 87.4,963.5 89.4,966.8 91.4,969.8 93.4,972.7 95.4,975.5 97.4,978.0 99.4,980.3 101.4,982.5 103.4,984.5 105.4,986.3 107.4,988.0 109.4,989.6 111.4,991.0 113.4,992.4 115.4,993.7 117.4,994.9 119.4,996.1 121.4,997.1 123.4,998.0 125.4,998.9 127.4,999.7 129.4,1000.4 131.4,1001.1 133.4,1001.7 135.4,1002.3 137.4,1002.8 139.4,1003.3 141.4,1003.7 143.4,1004.2 145.4,1004.6 147.4,1005.0 149.4,1005.4 151.4,1005.8 153.4,1006.2 155.4,1006.5 157.4,1006.9 159.4,1007.2 161.4,1007.6 163.4,1007.9 165.4,1008.1 167.4,1008.3 169.4,1008.5 171.4,1008.7 173.4,1008.8 175.4,1008.8 177.4,1008.8 179.4,1008.8 181.4,1008.8 183.4,1008.7 185.4,1008.6 187.4,1008.5 189.4,1008.4 191.4,1008.3 193.4,1008.1 195.4,1007.9 197.5,1007.8 199.5,1007.6 201.5,1007.4 203.5,1007.2 205.5,1007.0 207.5,1006.8 209.5,1006.6 211.5,1006.3 213.5,1006.1 215.5,1005.9 217.5,1005.6 219.5,1005.4 221.5,1005.1 223.5,1004.9 225.5,1004.6 227.5,1004.3 229.5,1004.0 231.5,1003.8 233.5,1003.5 235.5,1003.2 237.5,1002.8 239.5,1002.5 241.5,1002.2 243.5,1001.8 245.5,1001.5 247.5,1001.1 249.5,1000.8 251.5,1000.4 253.5,1000.0 255.5,999.6 257.5,999.1 259.5,998.7 261.5,998.2 263.5,997.7 265.5,997.2 267.5,996.7 269.5,996.2 271.5,995.7 273.5,995.2 275.5,994.7 277.5,994.2 279.5,993.6 281.5,993.1 283.5,992.6 285.5,992.1 287.5,991.6 289.5,991.1 291.5,990.6 293.5,990.1 295.5,989.7 297.5,989.2 299.5,988.8 301.5,988.3 303.5,987.9 305.5,987.5 307.5,987.1 309.5,986.7 311.5,986.3 313.5,985.9 315.5,985.6 317.5,985.2 319.5,984.8 321.5,984.4 323.5,984.0 325.5,983.6 327.5,983.2 329.5,982.8 331.5,982.4 333.5,981.9 335.5,981.5 337.5,981.1 339.5,980.6 341.5,980.2 343.5,979.7 345.5,979.2 347.5,978.8 349.5,978.3 351.5,977.8 353.5,977.4 355.5,976.9 357.5,976.4 359.5,975.9 361.5,975.5 363.5,975.0 365.5,974.5 367.5,974.0 369.5,973.6 371.5,973.1 373.5,972.6 375.5,972.2 377.5,971.7 379.5,971.3 381.5,970.8 383.5,970.4 385.5,969.9 387.5,969.5 389.5,969.1 391.5,968.6 393.5,968.2 395.5,967.7 397.5,967.3 399.5,966.8 401.5,966.4 403.5,965.9 405.5,965.5 407.5,965.1 409.5,964.6 411.5,964.2 413.5,963.8 415.5,963.4 417.5,963.0 419.5,962.6 421.5,962.2 423.5,961.9 425.5,961.6 427.5,961.2 429.5,960.9 431.5,960.6 433.5,960.4 435.5,960.1 437.5,959.9 439.5,959.7 441.5,959.6 443.5,959.4 445.5,959.3 447.5,959.3 449.5,959.3 451.5,959.3 453.5,959.3 455.5,959.4 457.5,959.5 459.5,959.6 461.5,959.7 463.5,959.9 465.5,960.0 467.5,960.2 469.5,960.4 471.5,960.6 473.5,960.9 475.5,961.1 477.5,961.4 479.5,961.7 481.5,962.0 483.5,962.4 485.6,962.7 487.6,963.1 489.6,963.6 491.6,964.1 493.6,964.5 495.6,965.1 497.6,965.6 499.6,966.2 501.6,966.7 503.6,967.3 505.6,967.9 507.6,968.5 509.6,969.2 511.6,969.8 513.6,970.5 515.6,971.2 517.6,971.9 519.6,972.7 521.6,973.5 523.6,974.3 525.6,975.2 527.6,976.1 529.6,977.1 531.6,978.1 533.6,979.1 535.6,980.1 537.6,981.2 539.6,982.3 541.6,983.4 543.6,984.5 545.6,985.7 547.6,987.0 549.6,988.2 551.6,989.5 553.6,990.9 555.6,992.3 557.6,993.7 559.6,995.2 561.6,996.7 563.6,998.2 565.6,999.7 567.6,1001.2 569.6,1002.7 571.6,1004.2 573.6,1005.7 575.6,1007.2 577.6,1008.7 579.6,1010.1 581.6,1011.6 583.6,1012.9 585.6,1014.3 587.6,1015.6 589.6,1016.9 591.6,1018.2 593.6,1019.4 595.6,1020.6 597.6,1021.8 599.6,1023.0 601.6,1024.2 603.6,1025.3 605.6,1026.5 607.6,1027.6 609.6,1028.7 611.6,1029.7 613.6,1030.8 615.6,1031.8 617.6,1032.8 619.6,1033.8 621.6,1034.7 623.6,1035.6 625.6,1036.6 627.6,1037.5" fill="none" stroke="#70AD47" stroke-width="1.4" stroke-linejoin="round"/>
<path d="M53.4,919.1 55.4,921.8 57.4,924.6 59.4,927.3 61.4,930.1 63.4,932.8 65.4,935.6 67.4,938.3 69.4,941.1 71.4,943.8 73.4,946.6 75.4,949.4 77.4,952.2 79.4,955.0 81.4,957.8 83.4,960.6 85.4,963.3 87.4,966.0 89.4,968.6 91.4,971.1 93.4,973.5 95.4,975.7 97.4,977.8 99.4,979.8 101.4,981.6 103.4,983.3 105.4,984.8 107.4,986.2 109.4,987.6 111.4,988.8 113.4,990.0 115.4,991.0 117.4,992.1 119.4,993.0 121.4,993.9 123.4,994.7 125.4,995.4 127.4,996.1 129.4,996.7 131.4,997.3 133.4,997.8 135.4,998.3 137.4,998.7 139.4,999.1 141.4,999.5 143.4,999.9 145.4,1000.2 147.4,1000.5 149.4,1000.8 151.4,1001.1 153.4,1001.4 155.4,1001.7 157.4,1001.9 159.4,1002.2 161.4,1002.4 163.4,1002.6 165.4,1002.8 167.4,1003.0 169.4,1003.1 171.4,1003.2 173.4,1003.2 175.4,1003.3 177.4,1003.3 179.4,1003.3 181.4,1003.2 183.4,1003.2 185.4,1003.1 187.4,1003.0 189.4,1002.9 191.4,1002.8 193.4,1002.6 195.4,1002.5 197.5,1002.4 199.5,1002.2 201.5,1002.1 203.5,1001.9 205.5,1001.8 207.5,1001.6 209.5,1001.5 211.5,1001.3 213.5,1001.1 215.5,1000.9 217.5,1000.7 219.5,1000.5 221.5,1000.3 223.5,1000.1 225.5,999.9 227.5,999.7 229.5,999.5 231.5,999.3 233.5,999.0 235.5,998.8 237.5,998.5 239.5,998.3 241.5,998.0 243.5,997.8 245.5,997.5 247.5,997.2 249.5,996.9 251.5,996.6 253.5,996.2 255.5,995.9 257.5,995.5 259.5,995.2 261.5,994.8 263.5,994.4 265.5,994.0 267.5,993.5 269.5,993.1 271.5,992.7 273.5,992.2 275.5,991.8 277.5,991.3 279.5,990.9 281.5,990.5 283.5,990.0 285.5,989.6 287.5,989.2 289.5,988.8 291.5,988.4 293.5,988.0 295.5,987.6 297.5,987.3 299.5,987.0 301.5,986.6 303.5,986.3 305.5,986.0 307.5,985.7 309.5,985.4 311.5,985.2 313.5,984.9 315.5,984.6 317.5,984.3 319.5,984.1 321.5,983.8 323.5,983.5 325.5,983.2 327.5,982.9 329.5,982.6 331.5,982.3 333.5,982.0 335.5,981.7 337.5,981.3 339.5,981.0 341.5,980.6 343.5,980.3 345.5,979.9 347.5,979.5 349.5,979.2 351.5,978.8 353.5,978.4 355.5,978.0 357.5,977.7 359.5,977.3 361.5,976.9 363.5,976.5 365.5,976.2 367.5,975.8 369.5,975.4 371.5,975.1 373.5,974.7 375.5,974.4 377.5,974.0 379.5,973.7 381.5,973.3 383.5,973.0 385.5,972.7 387.5,972.3 389.5,972.0 391.5,971.7 393.5,971.4 395.5,971.1 397.5,970.7 399.5,970.4 401.5,970.1 403.5,969.8 405.5,969.5 407.5,969.2 409.5,968.9 411.5,968.6 413.5,968.3 415.5,968.0 417.5,967.8 419.5,967.5 421.5,967.3 423.5,967.0 425.5,966.8 427.5,966.6 429.5,966.4 431.5,966.2 433.5,966.0 435.5,965.8 437.5,965.7 439.5,965.5 441.5,965.4 443.5,965.4 445.5,965.3 447.5,965.3 449.5,965.2 451.5,965.3 453.5,965.3 455.5,965.3 457.5,965.4 459.5,965.5 461.5,965.6 463.5,965.7 465.5,965.8 467.5,966.0 469.5,966.1 471.5,966.3 473.5,966.5 475.5,966.7 477.5,966.9 479.5,967.1 481.5,967.3 483.5,967.6 485.6,967.9 487.6,968.2 489.6,968.6 491.6,969.0 493.6,969.3 495.6,969.8 497.6,970.2 499.6,970.6 501.6,971.1 503.6,971.6 505.6,972.0 507.6,972.5 509.6,973.0 511.6,973.5 513.6,974.1 515.6,974.6 517.6,975.2 519.6,975.8 521.6,976.4 523.6,977.1 525.6,977.7 527.6,978.5 529.6,979.2 531.6,980.0 533.6,980.8 535.6,981.6 537.6,982.4 539.6,983.3 541.6,984.2 543.6,985.1 545.6,986.1 547.6,987.1 549.6,988.1 551.6,989.2 553.6,990.3 555.6,991.5 557.6,992.7 559.6,993.9 561.6,995.2 563.6,996.4 565.6,997.7 567.6,998.9 569.6,1000.2 571.6,1001.4 573.6,1002.7 575.6,1003.9 577.6,1005.1 579.6,1006.3 581.6,1007.4 583.6,1008.5 585.6,1009.6 587.6,1010.7 589.6,1011.7 591.6,1012.7 593.6,1013.7 595.6,1014.7 597.6,1015.7 599.6,1016.6 601.6,1017.6 603.6,1018.5 605.6,1019.4 607.6,1020.3 609.6,1021.1 611.6,1022.0 613.6,1022.8 615.6,1023.6 617.6,1024.4 619.6,1025.2 621.6,1025.9 623.6,1026.7 625.6,1027.4 627.6,1028.1" fill="none" stroke="#264478" stroke-width="1.4" stroke-linejoin="round"/>
<path d="M53.4,933.8 55.4,935.9 57.4,938.1 59.4,940.2 61.4,942.3 63.4,944.5 65.4,946.6 67.4,948.7 69.4,950.7 71.4,952.8 73.4,954.9 75.4,956.9 77.4,959.0 79.4,961.0 81.4,963.1 83.4,965.1 85.4,967.1 87.4,969.0 89.4,970.9 91.4,972.7 93.4,974.4 95.4,976.0 97.4,977.5 99.4,979.0 101.4,980.3 103.4,981.6 105.4,982.7 107.4,983.8 109.4,984.8 111.4,985.7 113.4,986.6 115.4,987.4 117.4,988.1 119.4,988.8 121.4,989.5 123.4,990.1 125.4,990.7 127.4,991.2 129.4,991.7 131.4,992.2 133.4,992.6 135.4,993.0 137.4,993.4 139.4,993.7 141.4,994.0 143.4,994.3 145.4,994.5 147.4,994.8 149.4,995.0 151.4,995.2 153.4,995.4 155.4,995.6 157.4,995.7 159.4,995.9 161.4,996.1 163.4,996.2 165.4,996.3 167.4,996.4 169.4,996.5 171.4,996.6 173.4,996.6 175.4,996.6 177.4,996.6 179.4,996.6 181.4,996.6 183.4,996.6 185.4,996.6 187.4,996.5 189.4,996.5 191.4,996.4 193.4,996.3 195.4,996.3 197.5,996.2 199.5,996.1 201.5,996.1 203.5,996.0 205.5,995.9 207.5,995.8 209.5,995.7 211.5,995.6 213.5,995.5 215.5,995.4 217.5,995.2 219.5,995.1 221.5,995.0 223.5,994.9 225.5,994.7 227.5,994.6 229.5,994.4 231.5,994.3 233.5,994.1 235.5,994.0 237.5,993.8 239.5,993.6 241.5,993.5 243.5,993.3 245.5,993.1 247.5,992.9 249.5,992.7 251.5,992.5 253.5,992.3 255.5,992.1 257.5,991.9 259.5,991.7 261.5,991.4 263.5,991.2 265.5,990.9 267.5,990.7 269.5,990.4 271.5,990.2 273.5,989.9 275.5,989.6 277.5,989.4 279.5,989.1 281.5,988.8 283.5,988.6 285.5,988.3 287.5,988.0 289.5,987.8 291.5,987.5 293.5,987.2 295.5,987.0 297.5,986.7 299.5,986.4 301.5,986.2 303.5,985.9 305.5,985.7 307.5,985.4 309.5,985.1 311.5,984.9 313.5,984.6 315.5,984.4 317.5,984.1 319.5,983.9 321.5,983.6 323.5,983.3 325.5,983.1 327.5,982.8 329.5,982.6 331.5,982.3 333.5,982.1 335.5,981.8 337.5,981.6 339.5,981.3 341.5,981.1 343.5,980.8 345.5,980.6 347.5,980.3 349.5,980.1 351.5,979.8 353.5,979.6 355.5,979.3 357.5,979.1 359.5,978.8 361.5,978.6 363.5,978.4 365.5,978.1 367.5,977.9 369.5,977.7 371.5,977.4 373.5,977.2 375.5,977.0 377.5,976.7 379.5,976.5 381.5,976.3 383.5,976.1 385.5,975.9 387.5,975.7 389.5,975.5 391.5,975.2 393.5,975.0 395.5,974.8 397.5,974.6 399.5,974.4 401.5,974.2 403.5,974.0 405.5,973.8 407.5,973.6 409.5,973.4 411.5,973.2 413.5,973.1 415.5,972.9 417.5,972.7 419.5,972.5 421.5,972.4 423.5,972.2 425.5,972.0 427.5,971.9 429.5,971.8 431.5,971.6 433.5,971.5 435.5,971.4 437.5,971.3 439.5,971.2 441.5,971.1 443.5,971.1 445.5,971.0 447.5,971.0 449.5,971.0 451.5,971.0 453.5,971.0 455.5,971.1 457.5,971.1 459.5,971.2 461.5,971.3 463.5,971.4 465.5,971.5 467.5,971.6 469.5,971.7 471.5,971.8 473.5,972.0 475.5,972.2 477.5,972.4 479.5,972.6 481.5,972.8 483.5,973.1 485.6,973.3 487.6,973.6 489.6,974.0 491.6,974.3 493.6,974.7 495.6,975.0 497.6,975.4 499.6,975.8 501.6,976.2 503.6,976.6 505.6,977.0 507.6,977.5 509.6,977.9 511.6,978.3 513.6,978.7 515.6,979.1 517.6,979.5 519.6,979.9 521.6,980.3 523.6,980.8 525.6,981.2 527.6,981.7 529.6,982.1 531.6,982.6 533.6,983.1 535.6,983.6 537.6,984.1 539.6,984.7 541.6,985.3 543.6,985.9 545.6,986.6 547.6,987.3 549.6,988.0 551.6,988.8 553.6,989.7 555.6,990.6 557.6,991.6 559.6,992.6 561.6,993.6 563.6,994.5 565.6,995.5 567.6,996.5 569.6,997.4 571.6,998.3 573.6,999.2 575.6,1000.1 577.6,1001.0 579.6,1001.9 581.6,1002.7 583.6,1003.5 585.6,1004.3 587.6,1005.1 589.6,1005.9 591.6,1006.6 593.6,1007.3 595.6,1008.1 597.6,1008.8 599.6,1009.5 601.6,1010.2 603.6,1010.9 605.6,1011.6 607.6,1012.3 609.6,1013.0 611.6,1013.6 613.6,1014.3 615.6,1014.9 617.6,1015.5 619.6,1016.1 621.6,1016.7 623.6,1017.3 625.6,1017.9 627.6,1018.5" fill="none" stroke="#9E480E" stroke-width="1.4" stroke-linejoin="round"/>
<path d="M46.9,788.4 H53.4 V1099.2 M46.9,940.55 H53.4 M46.9,1092.7 H627.6 V1099.2 M340.5,1092.7 V1099.2" fill="none" stroke="#111" stroke-width="2"/>
<text x="32" y="796.7" font-size="25" text-anchor="end" >0.8</text>
<text x="33" y="1100.6" font-size="25" text-anchor="end" >0</text>
<text x="53.6" y="1129.1" font-size="25" text-anchor="middle" >240</text>
<text x="340.5" y="1129.1" font-size="25" text-anchor="middle" >267</text>
<text x="627.5" y="1128.8" font-size="25" text-anchor="middle" >294</text>
<text x="405.3" y="1137.5" font-size="24.3" text-anchor="start" >Wavelength (nm)</text>
<path d="M122,796.7 H136" stroke="#5B9BD5" stroke-width="1.25"/>
<text x="136.3" y="801.6" font-size="16.2" text-anchor="start" >BP suspension (4.31 mM)</text>
<path d="M122,812.5 H136" stroke="#ED7D31" stroke-width="1.25"/>
<text x="136.3" y="817.4" font-size="16.2" text-anchor="start" >BSA (0.01 mM)</text>
<path d="M122,828.3 H136" stroke="#A5A5A5" stroke-width="1.25"/>
<text x="136.3" y="833.2" font-size="16.2" text-anchor="start" >BSA+15 µL BP suspension</text>
<path d="M122,844.1 H136" stroke="#FFC000" stroke-width="1.25"/>
<text x="136.3" y="849.0" font-size="16.2" text-anchor="start" >+50 µL</text>
<path d="M122,859.9 H136" stroke="#4472C4" stroke-width="1.25"/>
<text x="136.3" y="864.8" font-size="16.2" text-anchor="start" >+100 µL</text>
<path d="M122,875.7 H136" stroke="#70AD47" stroke-width="1.25"/>
<text x="136.3" y="880.6" font-size="16.2" text-anchor="start" >+200 µL</text>
<path d="M122,891.5 H136" stroke="#264478" stroke-width="1.25"/>
<text x="136.3" y="896.4" font-size="16.2" text-anchor="start" >+400 µL</text>
<path d="M122,907.3 H136" stroke="#9E480E" stroke-width="1.25"/>
<text x="136.3" y="912.2" font-size="16.2" text-anchor="start" >+800 µL</text>
<path d="M343.7,786 H347.7 V900.0 M343.7,841.25 H347.7 M347.7,896.5 H637.5 V900.0 M492.6,896.5 V900.0" fill="none" stroke="#6E6E6E" stroke-width="1.4"/>
<path d="M348.2,824 L625.4,803.4" stroke="#4A8FD6" stroke-width="1.3"/>
<path d="M347.7,896.4 L625.4,885.2" stroke="#F08A45" stroke-width="1.2" stroke-dasharray="1.3,1.3"/>
<path d="M344.5,828.3 L350.9,828.3 L347.7,822.2 Z" fill="#3D8BD9"/>
<path d="M355.9,826.0 L362.3,826.0 L359.1,819.9 Z" fill="#3D8BD9"/>
<path d="M380.0,824.2 L386.4,824.2 L383.2,818.1 Z" fill="#3D8BD9"/>
<path d="M410.7,821.5 L417.1,821.5 L413.9,815.4 Z" fill="#3D8BD9"/>
<path d="M461.0,817.8 L467.4,817.8 L464.2,811.7 Z" fill="#3D8BD9"/>
<path d="M534.0,812.5 L540.4,812.5 L537.2,806.4 Z" fill="#3D8BD9"/>
<path d="M622.2,806.3 L628.6,806.3 L625.4,800.2 Z" fill="#3D8BD9"/>
<circle cx="347.7" cy="896.5" r="3.3" fill="#F07A22"/>
<circle cx="358.8" cy="896" r="3.3" fill="#F07A22"/>
<circle cx="383.2" cy="895" r="3.3" fill="#F07A22"/>
<circle cx="413.9" cy="893.8" r="3.3" fill="#F07A22"/>
<circle cx="464.2" cy="891.7" r="3.3" fill="#F07A22"/>
<circle cx="537.2" cy="888.6" r="3.3" fill="#F07A22"/>
<circle cx="625.4" cy="885.2" r="3.3" fill="#F07A22"/>
<path d="M347.6,945.8 L353.6,945.8 L350.6,940.1 Z" fill="#3D8BD9"/>
<circle cx="495.8" cy="941.6" r="3.2" fill="#F07A22"/>
<text x="337" y="790.3" font-size="13.2" text-anchor="end" >0.3</text>
<text x="337.5" y="901.4" font-size="13.2" text-anchor="end" >0.0</text>
<text x="348.5" y="917.1" font-size="13.2" text-anchor="middle" >0</text>
<text x="493.7" y="917.5" font-size="13.2" text-anchor="middle" >1.2</text>
<text x="637.3" y="917.5" font-size="13.2" text-anchor="middle" >2.4</text>
<text x="433" y="929" font-size="13.6" text-anchor="start" >BP suspension (mM)</text>
<text x="478.6" y="791.9" font-size="13.7" text-anchor="start" >y = 0.0244x + 0.1968</text>
<text x="504.8" y="807.7" font-size="13.7" text-anchor="start" >R² = 0.9979</text>
<text x="500.7" y="869.7" font-size="13.7" text-anchor="start" >y = 0.0130x + 0.0003</text>
<text x="526.7" y="885.5" font-size="13.7" text-anchor="start" >R² = 0.9980</text>
<text x="357.2" y="946.7" font-size="13.6" text-anchor="start" >BSA + BP suspension</text>
<text x="502.9" y="946.7" font-size="13.6" text-anchor="start" >Water+BP suspension</text>
<text transform="translate(30,190) rotate(-90)" font-size="24.5" text-anchor="middle">Absorbance</text>
<text transform="translate(29.3,566.8) rotate(-90)" font-size="24.5" text-anchor="middle">Absorbance</text>
<text transform="translate(29,944.3) rotate(-90)" font-size="24.5" text-anchor="middle">Absorbance</text>
<text x="75.8" y="46.6" font-size="42" font-weight="bold">a</text>
<text x="77.8" y="438.3" font-size="39" font-weight="bold">b</text>
<text x="75.3" y="809.6" font-size="42" font-weight="bold">c</text>
<text transform="translate(347.4,141.9) rotate(-90)" font-size="13.8">Absorbance<tspan font-size="8.6" dy="3.0">225 nm</tspan></text>
<text transform="translate(362.2,511.9) rotate(-90)" font-size="13.7">Absorbance<tspan font-size="8.6" dy="3.2">225 nm</tspan></text>
<text transform="translate(332.7,887.9) rotate(-90)" font-size="12.5">Absorbance<tspan font-size="10" dy="2.8">250 nm</tspan></text>
<text x="196" y="186.5" font-size="18.2">Isosbestic</text><text x="275.3" y="186.5" font-size="18.2">point</text>
<path d="M254.5,191.5 L254.5,255.5" stroke="#FF0000" stroke-width="2"/><path d="M254.5,263.5 L251.3,255.5 L257.7,255.5 Z" fill="#FF0000"/>
<text x="145.2" y="962.2" font-size="18.2">Isosbestic</text><text x="223.5" y="962.2" font-size="18.2">point</text>
<path d="M140.8,958.0 L107.8,972.3" stroke="#FF0000" stroke-width="2"/><path d="M100.5,975.5 L106.6,969.4 L109.1,975.2 Z" fill="#FF0000"/>
<text x="377.4" y="1021.3" font-size="18.2">Isosbestic</text><text x="455.7" y="1021.3" font-size="18.2">points</text>
<path d="M374.2,1014.7 L342.1,987.9" stroke="#FF0000" stroke-width="2"/><path d="M336.0,982.8 L344.2,985.5 L340.1,990.4 Z" fill="#FF0000"/>
<path d="M505.8,1014.7 L541.0,992.5" stroke="#FF0000" stroke-width="2"/><path d="M547.8,988.2 L542.7,995.2 L539.3,989.8 Z" fill="#FF0000"/>
</svg></body></html>
